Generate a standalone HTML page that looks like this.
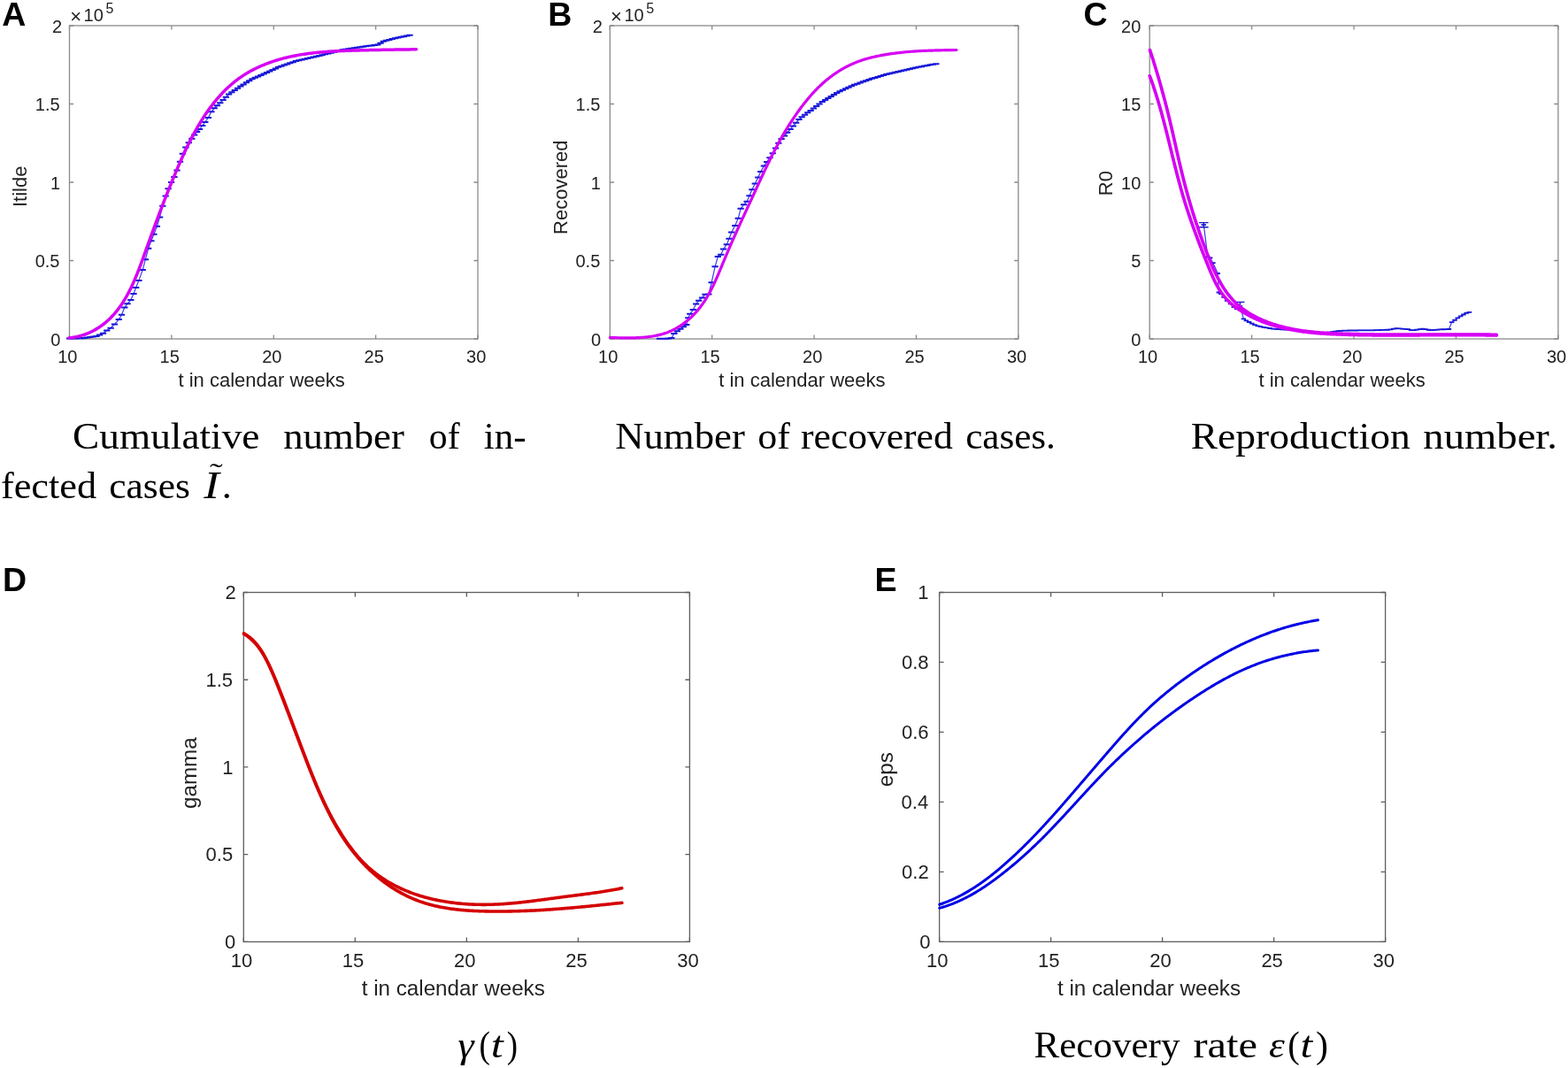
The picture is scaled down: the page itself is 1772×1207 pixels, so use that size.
<!DOCTYPE html>
<html><head><meta charset="utf-8"><title>Figure</title>
<style>html,body{margin:0;padding:0;background:#fff;}svg{display:block;}</style>
</head><body>
<svg width="1772" height="1207" viewBox="0 0 1772 1207">
<rect width="1772" height="1207" fill="#fff"/>
<rect x="78.5" y="29" width="461.5" height="354" fill="none" stroke="#8a8a8a" stroke-width="1.3"/>
<path d="M78.5,383v-4.6M78.5,29v4.6M193.88,383v-4.6M193.88,29v4.6M309.25,383v-4.6M309.25,29v4.6M424.62,383v-4.6M424.62,29v4.6M540,383v-4.6M540,29v4.6M78.5,383h4.6M540,383h-4.6M78.5,294.5h4.6M540,294.5h-4.6M78.5,206h4.6M540,206h-4.6M78.5,117.5h4.6M540,117.5h-4.6M78.5,29h4.6M540,29h-4.6" stroke="#8a8a8a" stroke-width="1.3" fill="none"/>
<text x="65.23" y="409.7" font-family="Liberation Sans, sans-serif" font-size="20" fill="#222">10</text>
<text x="180.62" y="409.7" font-family="Liberation Sans, sans-serif" font-size="20" fill="#222">15</text>
<text x="296.22" y="409.7" font-family="Liberation Sans, sans-serif" font-size="20" fill="#222">20</text>
<text x="411.62" y="409.7" font-family="Liberation Sans, sans-serif" font-size="20" fill="#222">25</text>
<text x="527.1" y="409.7" font-family="Liberation Sans, sans-serif" font-size="20" fill="#222">30</text>
<text x="57.25" y="390.57" font-family="Liberation Sans, sans-serif" font-size="20" fill="#222">0</text>
<text x="39.7" y="302.07" font-family="Liberation Sans, sans-serif" font-size="20" fill="#222">0.5</text>
<text x="56.95" y="213.57" font-family="Liberation Sans, sans-serif" font-size="20" fill="#222">1</text>
<text x="39.8" y="124.98" font-family="Liberation Sans, sans-serif" font-size="20" fill="#222">1.5</text>
<text x="58.9" y="36.68" font-family="Liberation Sans, sans-serif" font-size="20" fill="#222">2</text>
<path d="M78.5,382.5 L82,382.5 L85.3,382.4 L88.6,382.3 L91.9,382.2 L95.2,381.9 L98.5,381.5 L101.8,381 L105.2,380.4 L109,379.9 L112.5,378.5 L116.5,376.7 L120.8,373.4 L125.1,370.7 L129.5,366.4 L134.3,361.1 L137.5,355.7 L140.8,347.6 L144,343.3 L147.8,339 L151,332 L153.7,325 L156.9,316.9 L161.2,305.1 L164.4,293.2 L167.7,280.8 L170.9,272.2 L173.9,264.8 L177.4,255.8 L180.6,245.4 L183.8,232.8 L187.2,221.6 L190.1,213.2 L193.6,205.9 L196.9,199.9 L200,192.6 L203.5,182.8 L206.4,173.8 L209.9,166.5 L213.3,161.3 L216.8,156.7 L219.7,152.6 L222.6,149.1 L225.5,146 L228.7,142 L231.8,138 L235.4,132.9 L238.87,126.34 L242.17,122.3 L245.46,119.24 L248.76,116.18 L252.06,112.97 L255.35,109.71 L258.65,106.47 L261.95,104.24 L265.24,102.01 L268.54,99.78 L271.84,97.62 L275.13,95.49 L278.43,93.36 L281.72,91.22 L285.02,89.16 L288.32,87.77 L291.61,86.38 L294.91,84.98 L298.21,83.59 L301.5,82.09 L304.8,80.52 L308.1,78.95 L311.39,77.38 L314.69,75.83 L317.99,74.69 L321.28,73.55 L324.58,72.41 L327.87,71.27 L331.17,70.13 L334.47,68.98 L337.76,68.18 L341.06,67.45 L344.36,66.72 L347.65,65.98 L350.95,65.25 L354.25,64.51 L357.54,63.78 L360.84,63.01 L364.14,62.17 L367.43,61.33 L370.73,60.49 L374.02,59.65 L377.32,58.82 L380.62,58.01 L383.91,57.19 L387.21,56.37 L390.51,55.65 L393.8,55.15 L397.1,54.65 L400.4,54.15 L403.69,53.65 L406.99,53.15 L410.29,52.71 L413.58,52.29 L416.88,51.87 L420.17,51.45 L423.47,51.02 L426.77,50.6 L430.06,48.66 L433.36,46.7 L436.66,45.64 L439.95,44.88 L443.25,44.12 L446.55,43.36 L449.84,42.61 L453.14,41.87 L456.44,41.13 L459.73,40.38 L463.03,39.64" fill="none" stroke="#3a3af2" stroke-width="1.2" stroke-linejoin="round"/>
<path d="M74.85,382.5h7.3M78.35,382.5h7.3M81.65,382.4h7.3M84.95,382.3h7.3M88.25,382.2h7.3M91.55,381.9h7.3M94.85,381.5h7.3M98.15,381h7.3M101.55,380.4h7.3M105.35,379.9h7.3M108.85,378.5h7.3M112.85,376.7h7.3M117.15,373.4h7.3M121.45,370.7h7.3M125.85,366.4h7.3M130.65,361.1h7.3M133.85,355.7h7.3M137.15,347.6h7.3M140.35,343.3h7.3M144.15,339h7.3M147.35,332h7.3M150.05,325h7.3M153.25,316.9h7.3M157.55,305.1h7.3M160.75,293.2h7.3M164.05,280.8h7.3M167.25,272.2h7.3M170.25,264.8h7.3M173.75,255.8h7.3M176.95,245.4h7.3M180.15,232.8h7.3M183.55,221.6h7.3M186.45,213.2h7.3M189.95,205.9h7.3M193.25,199.9h7.3M196.35,192.6h7.3M199.85,182.8h7.3M202.75,173.8h7.3M206.25,166.5h7.3M209.65,161.3h7.3M213.15,156.7h7.3M216.05,152.6h7.3M218.95,149.1h7.3M221.85,146h7.3M225.05,142h7.3M228.15,138h7.3M231.75,132.9h7.3M235.22,126.34h7.3M238.52,122.3h7.3M241.81,119.24h7.3M245.11,116.18h7.3M248.41,112.97h7.3M251.7,109.71h7.3M255,106.47h7.3M258.3,104.24h7.3M261.59,102.01h7.3M264.89,99.78h7.3M268.19,97.62h7.3M271.48,95.49h7.3M274.78,93.36h7.3M278.07,91.22h7.3M281.37,89.16h7.3M284.67,87.77h7.3M287.96,86.38h7.3M291.26,84.98h7.3M294.56,83.59h7.3M297.85,82.09h7.3M301.15,80.52h7.3M304.45,78.95h7.3M307.74,77.38h7.3M311.04,75.83h7.3M314.34,74.69h7.3M317.63,73.55h7.3M320.93,72.41h7.3M324.22,71.27h7.3M327.52,70.13h7.3M330.82,68.98h7.3M334.11,68.18h7.3M337.41,67.45h7.3M340.71,66.72h7.3M344,65.98h7.3M347.3,65.25h7.3M350.6,64.51h7.3M353.89,63.78h7.3M357.19,63.01h7.3M360.49,62.17h7.3M363.78,61.33h7.3M367.08,60.49h7.3M370.37,59.65h7.3M373.67,58.82h7.3M376.97,58.01h7.3M380.26,57.19h7.3M383.56,56.37h7.3M386.86,55.65h7.3M390.15,55.15h7.3M393.45,54.65h7.3M396.75,54.15h7.3M400.04,53.65h7.3M403.34,53.15h7.3M406.64,52.71h7.3M409.93,52.29h7.3M413.23,51.87h7.3M416.52,51.45h7.3M419.82,51.02h7.3M423.12,50.6h7.3M426.41,48.66h7.3M429.71,46.7h7.3M433.01,45.64h7.3M436.3,44.88h7.3M439.6,44.12h7.3M442.9,43.36h7.3M446.19,42.61h7.3M449.49,41.87h7.3M452.79,41.13h7.3M456.08,40.38h7.3M459.38,39.64h7.3" fill="none" stroke="#1818d8" stroke-width="2.0"/>
<path d="M77.93,381.91 L79.59,381.74 L81.23,381.54 L82.85,381.3 L84.46,381.03 L86.04,380.72 L87.61,380.39 L89.16,380.02 L90.69,379.62 L92.2,379.19 L93.69,378.73 L95.16,378.25 L96.62,377.73 L98.05,377.19 L99.47,376.62 L100.87,376.02 L102.25,375.39 L103.62,374.74 L104.96,374.06 L106.29,373.36 L107.6,372.63 L108.89,371.88 L110.16,371.11 L111.42,370.31 L112.65,369.49 L113.87,368.65 L115.07,367.79 L116.26,366.9 L117.42,366 L118.57,365.07 L119.7,364.13 L120.81,363.17 L121.91,362.19 L122.99,361.19 L124.05,360.17 L125.09,359.14 L126.12,358.09 L127.13,357.03 L128.12,355.95 L129.09,354.85 L130.05,353.74 L130.99,352.62 L131.92,351.48 L132.83,350.33 L133.72,349.17 L134.6,347.99 L135.47,346.8 L136.32,345.6 L137.15,344.38 L137.98,343.16 L138.79,341.92 L139.58,340.67 L140.36,339.41 L141.13,338.14 L141.89,336.86 L142.64,335.57 L143.37,334.27 L144.1,332.96 L144.81,331.64 L145.51,330.31 L146.2,328.97 L146.88,327.63 L147.55,326.28 L148.21,324.92 L148.86,323.55 L149.5,322.18 L150.14,320.8 L150.76,319.41 L151.38,318.02 L151.99,316.62 L152.59,315.22 L153.19,313.81 L153.78,312.4 L154.36,310.98 L154.93,309.56 L155.5,308.13 L156.07,306.71 L156.63,305.27 L157.18,303.84 L157.73,302.4 L158.28,300.96 L158.82,299.52 L159.35,298.08 L159.89,296.63 L160.42,295.19 L160.94,293.74 L161.47,292.3 L161.99,290.85 L162.51,289.4 L163.03,287.96 L163.55,286.51 L164.07,285.07 L164.58,283.63 L165.1,282.18 L165.62,280.75 L166.13,279.31 L166.65,277.87 L167.16,276.44 L167.68,275.01 L168.19,273.58 L168.71,272.15 L169.22,270.73 L169.74,269.31 L170.26,267.88 L170.77,266.46 L171.29,265.04 L171.81,263.63 L172.33,262.21 L172.84,260.8 L173.36,259.38 L173.88,257.97 L174.4,256.56 L174.92,255.15 L175.44,253.75 L175.96,252.34 L176.48,250.94 L177.01,249.53 L177.53,248.13 L178.05,246.73 L178.58,245.33 L179.1,243.93 L179.63,242.53 L180.16,241.13 L180.69,239.74 L181.22,238.34 L181.75,236.95 L182.28,235.55 L182.82,234.16 L183.35,232.77 L183.89,231.37 L184.42,229.98 L184.96,228.59 L185.5,227.2 L186.04,225.81 L186.58,224.42 L187.13,223.04 L187.67,221.65 L188.22,220.26 L188.77,218.87 L189.32,217.49 L189.87,216.1 L190.43,214.71 L190.98,213.33 L191.54,211.94 L192.1,210.55 L192.66,209.17 L193.22,207.78 L193.79,206.39 L194.35,205.01 L194.92,203.62 L195.49,202.24 L196.07,200.85 L196.64,199.46 L197.22,198.08 L197.8,196.69 L198.38,195.3 L198.97,193.91 L199.55,192.52 L200.14,191.14 L200.73,189.75 L201.33,188.36 L201.93,186.97 L202.53,185.59 L203.13,184.2 L203.74,182.81 L204.35,181.43 L204.96,180.04 L205.58,178.66 L206.2,177.28 L206.83,175.9 L207.46,174.52 L208.09,173.14 L208.73,171.76 L209.37,170.39 L210.02,169.01 L210.67,167.64 L211.33,166.27 L211.99,164.91 L212.66,163.54 L213.33,162.18 L214.01,160.82 L214.69,159.47 L215.38,158.11 L216.07,156.76 L216.77,155.41 L217.48,154.07 L218.19,152.73 L218.91,151.39 L219.63,150.06 L220.36,148.73 L221.1,147.4 L221.84,146.08 L222.59,144.76 L223.35,143.45 L224.11,142.14 L224.88,140.83 L225.66,139.53 L226.45,138.23 L227.24,136.94 L228.04,135.66 L228.85,134.38 L229.67,133.1 L230.49,131.83 L231.33,130.56 L232.17,129.3 L233.02,128.05 L233.88,126.8 L234.74,125.56 L235.62,124.32 L236.5,123.09 L237.39,121.87 L238.3,120.66 L239.21,119.45 L240.13,118.25 L241.06,117.06 L241.99,115.87 L242.94,114.7 L243.9,113.53 L244.86,112.37 L245.84,111.22 L246.82,110.08 L247.82,108.96 L248.82,107.84 L249.84,106.73 L250.86,105.63 L251.9,104.54 L252.94,103.46 L253.99,102.39 L255.06,101.34 L256.13,100.3 L257.22,99.27 L258.31,98.25 L259.42,97.24 L260.54,96.25 L261.66,95.27 L262.8,94.3 L263.95,93.35 L265.11,92.41 L266.28,91.48 L267.46,90.57 L268.65,89.67 L269.86,88.79 L271.07,87.92 L272.3,87.07 L273.53,86.23 L274.78,85.41 L276.04,84.6 L277.31,83.8 L278.58,83.02 L279.87,82.26 L281.17,81.51 L282.47,80.77 L283.79,80.05 L285.11,79.34 L286.44,78.64 L287.78,77.96 L289.12,77.3 L290.48,76.64 L291.84,76 L293.21,75.38 L294.58,74.76 L295.96,74.17 L297.35,73.58 L298.75,73.01 L300.15,72.45 L301.55,71.9 L302.96,71.37 L304.38,70.84 L305.8,70.34 L307.22,69.84 L308.65,69.36 L310.09,68.89 L311.53,68.43 L312.97,67.98 L314.41,67.55 L315.86,67.12 L317.31,66.72 L318.76,66.32 L320.22,65.93 L321.68,65.56 L323.14,65.19 L324.6,64.84 L326.07,64.5 L327.54,64.16 L329.01,63.84 L330.49,63.53 L331.97,63.23 L333.45,62.94 L334.93,62.66 L336.41,62.39 L337.9,62.12 L339.38,61.87 L340.87,61.63 L342.37,61.39 L343.86,61.16 L345.36,60.94 L346.85,60.73 L348.35,60.53 L349.85,60.34 L351.35,60.15 L352.86,59.97 L354.36,59.8 L355.87,59.63 L357.37,59.47 L358.88,59.32 L360.39,59.17 L361.9,59.03 L363.41,58.9 L364.92,58.77 L366.43,58.65 L367.95,58.54 L369.46,58.43 L370.98,58.32 L372.49,58.22 L374.01,58.12 L375.52,58.03 L377.04,57.95 L378.55,57.86 L380.07,57.79 L381.59,57.71 L383.1,57.64 L384.62,57.57 L386.14,57.51 L387.65,57.45 L389.17,57.39 L390.69,57.33 L392.2,57.28 L393.72,57.23 L395.23,57.18 L396.75,57.14 L398.26,57.09 L399.77,57.05 L401.28,57.01 L402.79,56.97 L404.3,56.93 L405.81,56.89 L407.32,56.85 L408.83,56.82 L410.34,56.78 L411.84,56.74 L413.35,56.71 L414.85,56.68 L416.35,56.64 L417.86,56.61 L419.36,56.58 L420.86,56.55 L422.36,56.52 L423.86,56.49 L425.36,56.46 L426.86,56.43 L428.36,56.4 L429.86,56.38 L431.36,56.35 L432.86,56.32 L434.36,56.3 L435.86,56.27 L437.36,56.25 L438.86,56.22 L440.36,56.2 L441.86,56.17 L443.36,56.15 L444.86,56.13 L446.36,56.11 L447.86,56.08 L449.36,56.06 L450.86,56.04 L452.36,56.02 L453.87,56 L455.37,55.98 L456.87,55.96 L458.38,55.94 L459.88,55.92 L461.39,55.9 L462.9,55.88 L464.4,55.86 L465.91,55.85 L467.42,55.83 L468.93,55.81 L470.44,55.79" fill="none" stroke="#d600f4" stroke-width="3.5" stroke-linecap="round" stroke-linejoin="round"/>
<text transform="translate(30.4,210.3) rotate(-90)" x="-23.79" y="0" font-family="Liberation Sans, sans-serif" font-size="22" fill="#222">Itilde</text>
<text x="201.51" y="437.1" font-family="Liberation Sans, sans-serif" font-size="22" fill="#222">t in calendar weeks</text>
<rect x="689.3" y="29" width="461.5" height="354" fill="none" stroke="#8a8a8a" stroke-width="1.3"/>
<path d="M689.3,383v-4.6M689.3,29v4.6M804.67,383v-4.6M804.67,29v4.6M920.05,383v-4.6M920.05,29v4.6M1035.42,383v-4.6M1035.42,29v4.6M1150.8,383v-4.6M1150.8,29v4.6M689.3,383h4.6M1150.8,383h-4.6M689.3,294.5h4.6M1150.8,294.5h-4.6M689.3,206h4.6M1150.8,206h-4.6M689.3,117.5h4.6M1150.8,117.5h-4.6M689.3,29h4.6M1150.8,29h-4.6" stroke="#8a8a8a" stroke-width="1.3" fill="none"/>
<text x="676.02" y="409.7" font-family="Liberation Sans, sans-serif" font-size="20" fill="#222">10</text>
<text x="791.42" y="409.7" font-family="Liberation Sans, sans-serif" font-size="20" fill="#222">15</text>
<text x="907.02" y="409.7" font-family="Liberation Sans, sans-serif" font-size="20" fill="#222">20</text>
<text x="1022.42" y="409.7" font-family="Liberation Sans, sans-serif" font-size="20" fill="#222">25</text>
<text x="1137.9" y="409.7" font-family="Liberation Sans, sans-serif" font-size="20" fill="#222">30</text>
<text x="668.05" y="390.57" font-family="Liberation Sans, sans-serif" font-size="20" fill="#222">0</text>
<text x="650.5" y="302.07" font-family="Liberation Sans, sans-serif" font-size="20" fill="#222">0.5</text>
<text x="667.75" y="213.57" font-family="Liberation Sans, sans-serif" font-size="20" fill="#222">1</text>
<text x="650.6" y="124.98" font-family="Liberation Sans, sans-serif" font-size="20" fill="#222">1.5</text>
<text x="669.7" y="36.68" font-family="Liberation Sans, sans-serif" font-size="20" fill="#222">2</text>
<path d="M745.5,382.7 L748.8,382.7 L752.1,382.7 L755.5,382.6 L758.8,382 L761.9,376.9 L765.4,374.3 L768.9,371.7 L772.3,369.3 L775.8,367 L777.8,359.3 L779.8,354.8 L783.3,350.1 L786.7,343.4 L789.7,339.7 L793.5,336.4 L797,332.7 L800.8,332.5 L804.1,319.3 L808.1,301.3 L811.3,290 L814.7,287.8 L817.6,281.6 L821.3,276.2 L824,269.7 L826.7,262.5 L830.7,254.9 L834.2,246.8 L837.1,235.8 L840.6,231.2 L844.1,227.7 L847,221.3 L849.9,214.3 L853.3,207.4 L856.8,200.4 L859.7,194.1 L863.35,187.62 L866.65,182.95 L869.94,178.28 L873.24,173.34 L876.54,167.59 L879.83,161.85 L883.13,157.02 L886.43,153.38 L889.72,149.75 L893.02,146.11 L896.32,142.44 L899.61,138.76 L902.91,135.08 L906.2,132.31 L909.5,129.83 L912.8,127.35 L916.09,124.88 L919.39,122.42 L922.69,119.95 L925.98,117.49 L929.28,115.03 L932.58,112.96 L935.87,111 L939.17,109.03 L942.47,107.06 L945.76,105.09 L949.06,103.27 L952.35,101.79 L955.65,100.3 L958.95,98.82 L962.24,97.34 L965.54,95.85 L968.84,94.63 L972.13,93.47 L975.43,92.3 L978.73,91.14 L982.02,89.97 L985.32,88.86 L988.62,87.88 L991.91,86.89 L995.21,85.9 L998.5,84.91 L1001.8,83.92 L1005.1,83.16 L1008.39,82.43 L1011.69,81.7 L1014.99,80.97 L1018.28,80.25 L1021.58,79.51 L1024.88,78.76 L1028.17,78.02 L1031.47,77.27 L1034.77,76.52 L1038.06,75.78 L1041.36,75.16 L1044.65,74.57 L1047.95,73.97 L1051.25,73.37 L1054.54,72.77 L1057.84,72.17" fill="none" stroke="#3a3af2" stroke-width="1.2" stroke-linejoin="round"/>
<path d="M741.85,382.7h7.3M745.15,382.7h7.3M748.45,382.7h7.3M751.85,382.6h7.3M755.15,382h7.3M758.25,376.9h7.3M761.75,374.3h7.3M765.25,371.7h7.3M768.65,369.3h7.3M772.15,367h7.3M774.15,359.3h7.3M776.15,354.8h7.3M779.65,350.1h7.3M783.05,343.4h7.3M786.05,339.7h7.3M789.85,336.4h7.3M793.35,332.7h7.3M797.15,332.5h7.3M800.45,319.3h7.3M804.45,301.3h7.3M807.65,290h7.3M811.05,287.8h7.3M813.95,281.6h7.3M817.65,276.2h7.3M820.35,269.7h7.3M823.05,262.5h7.3M827.05,254.9h7.3M830.55,246.8h7.3M833.45,235.8h7.3M836.95,231.2h7.3M840.45,227.7h7.3M843.35,221.3h7.3M846.25,214.3h7.3M849.65,207.4h7.3M853.15,200.4h7.3M856.05,194.1h7.3M859.7,187.62h7.3M863,182.95h7.3M866.29,178.28h7.3M869.59,173.34h7.3M872.89,167.59h7.3M876.18,161.85h7.3M879.48,157.02h7.3M882.78,153.38h7.3M886.07,149.75h7.3M889.37,146.11h7.3M892.67,142.44h7.3M895.96,138.76h7.3M899.26,135.08h7.3M902.55,132.31h7.3M905.85,129.83h7.3M909.15,127.35h7.3M912.44,124.88h7.3M915.74,122.42h7.3M919.04,119.95h7.3M922.33,117.49h7.3M925.63,115.03h7.3M928.93,112.96h7.3M932.22,111h7.3M935.52,109.03h7.3M938.82,107.06h7.3M942.11,105.09h7.3M945.41,103.27h7.3M948.7,101.79h7.3M952,100.3h7.3M955.3,98.82h7.3M958.59,97.34h7.3M961.89,95.85h7.3M965.19,94.63h7.3M968.48,93.47h7.3M971.78,92.3h7.3M975.08,91.14h7.3M978.37,89.97h7.3M981.67,88.86h7.3M984.97,87.88h7.3M988.26,86.89h7.3M991.56,85.9h7.3M994.85,84.91h7.3M998.15,83.92h7.3M1001.45,83.16h7.3M1004.74,82.43h7.3M1008.04,81.7h7.3M1011.34,80.97h7.3M1014.63,80.25h7.3M1017.93,79.51h7.3M1021.23,78.76h7.3M1024.52,78.02h7.3M1027.82,77.27h7.3M1031.12,76.52h7.3M1034.41,75.78h7.3M1037.71,75.16h7.3M1041,74.57h7.3M1044.3,73.97h7.3M1047.6,73.37h7.3M1050.89,72.77h7.3M1054.19,72.17h7.3" fill="none" stroke="#1818d8" stroke-width="2.0"/>
<path d="M689.37,381.53 L690.81,381.56 L692.25,381.59 L693.71,381.63 L695.17,381.66 L696.65,381.7 L698.13,381.73 L699.62,381.77 L701.11,381.8 L702.61,381.83 L704.12,381.85 L705.63,381.87 L707.15,381.88 L708.67,381.89 L710.2,381.89 L711.72,381.89 L713.25,381.87 L714.79,381.85 L716.32,381.82 L717.85,381.78 L719.39,381.72 L720.92,381.66 L722.46,381.58 L723.99,381.49 L725.52,381.39 L727.05,381.27 L728.58,381.14 L730.1,380.99 L731.62,380.83 L733.14,380.65 L734.65,380.45 L736.15,380.23 L737.65,379.99 L739.14,379.73 L740.63,379.46 L742.11,379.16 L743.58,378.84 L745.04,378.49 L746.49,378.12 L747.94,377.73 L749.37,377.32 L750.79,376.87 L752.21,376.4 L753.61,375.91 L754.99,375.39 L756.37,374.83 L757.73,374.25 L759.08,373.65 L760.42,373.01 L761.74,372.35 L763.05,371.67 L764.35,370.95 L765.63,370.22 L766.9,369.45 L768.15,368.67 L769.39,367.86 L770.62,367.03 L771.83,366.17 L773.03,365.29 L774.22,364.39 L775.39,363.47 L776.54,362.53 L777.68,361.57 L778.8,360.59 L779.91,359.59 L781.01,358.57 L782.09,357.53 L783.15,356.47 L784.2,355.4 L785.23,354.31 L786.24,353.2 L787.24,352.08 L788.22,350.94 L789.19,349.79 L790.14,348.63 L791.08,347.45 L791.99,346.25 L792.89,345.04 L793.78,343.82 L794.64,342.59 L795.49,341.35 L796.32,340.1 L797.14,338.83 L797.94,337.56 L798.73,336.27 L799.5,334.98 L800.25,333.67 L801,332.36 L801.73,331.04 L802.44,329.71 L803.15,328.38 L803.85,327.03 L804.53,325.68 L805.2,324.33 L805.87,322.97 L806.52,321.6 L807.17,320.22 L807.81,318.85 L808.44,317.47 L809.06,316.08 L809.68,314.69 L810.29,313.3 L810.89,311.9 L811.49,310.51 L812.09,309.11 L812.68,307.71 L813.27,306.3 L813.86,304.9 L814.44,303.5 L815.02,302.1 L815.6,300.69 L816.18,299.29 L816.76,297.89 L817.35,296.49 L817.93,295.09 L818.51,293.7 L819.1,292.31 L819.68,290.92 L820.27,289.53 L820.86,288.14 L821.45,286.76 L822.04,285.37 L822.63,283.99 L823.22,282.61 L823.82,281.23 L824.42,279.85 L825.01,278.48 L825.61,277.1 L826.21,275.72 L826.82,274.35 L827.42,272.98 L828.03,271.6 L828.63,270.23 L829.24,268.86 L829.85,267.49 L830.46,266.12 L831.08,264.75 L831.69,263.38 L832.31,262.01 L832.92,260.64 L833.54,259.27 L834.16,257.9 L834.78,256.53 L835.4,255.17 L836.03,253.8 L836.65,252.43 L837.28,251.06 L837.9,249.7 L838.53,248.33 L839.15,246.96 L839.78,245.6 L840.41,244.23 L841.04,242.86 L841.67,241.5 L842.3,240.13 L842.93,238.77 L843.56,237.4 L844.19,236.03 L844.82,234.67 L845.45,233.3 L846.08,231.93 L846.72,230.57 L847.35,229.2 L847.98,227.84 L848.61,226.47 L849.24,225.1 L849.87,223.74 L850.51,222.37 L851.14,221 L851.77,219.63 L852.4,218.27 L853.03,216.9 L853.66,215.53 L854.29,214.16 L854.91,212.79 L855.54,211.42 L856.17,210.06 L856.8,208.69 L857.43,207.32 L858.06,205.95 L858.7,204.58 L859.33,203.22 L859.96,201.85 L860.59,200.48 L861.23,199.12 L861.87,197.75 L862.5,196.39 L863.14,195.03 L863.78,193.67 L864.43,192.3 L865.07,190.94 L865.72,189.58 L866.37,188.23 L867.02,186.87 L867.67,185.51 L868.33,184.16 L868.99,182.81 L869.65,181.46 L870.31,180.11 L870.98,178.76 L871.65,177.41 L872.32,176.07 L873,174.72 L873.68,173.38 L874.36,172.04 L875.05,170.71 L875.74,169.37 L876.43,168.04 L877.13,166.71 L877.83,165.38 L878.54,164.05 L879.25,162.73 L879.97,161.41 L880.69,160.09 L881.42,158.77 L882.15,157.46 L882.88,156.15 L883.62,154.84 L884.37,153.53 L885.12,152.23 L885.88,150.93 L886.64,149.64 L887.4,148.34 L888.18,147.05 L888.96,145.77 L889.74,144.49 L890.53,143.21 L891.33,141.93 L892.13,140.66 L892.94,139.39 L893.75,138.12 L894.57,136.86 L895.4,135.6 L896.23,134.35 L897.07,133.1 L897.92,131.86 L898.77,130.61 L899.63,129.38 L900.49,128.14 L901.36,126.91 L902.24,125.69 L903.12,124.47 L904.01,123.26 L904.91,122.04 L905.82,120.84 L906.73,119.64 L907.65,118.44 L908.57,117.25 L909.51,116.06 L910.45,114.88 L911.4,113.71 L912.35,112.54 L913.32,111.38 L914.29,110.23 L915.27,109.08 L916.26,107.94 L917.26,106.81 L918.27,105.69 L919.28,104.57 L920.31,103.47 L921.35,102.37 L922.39,101.29 L923.45,100.22 L924.51,99.15 L925.59,98.1 L926.67,97.06 L927.77,96.02 L928.88,95.01 L929.99,94 L931.12,93 L932.26,92.02 L933.4,91.05 L934.56,90.09 L935.73,89.14 L936.9,88.21 L938.09,87.29 L939.29,86.39 L940.49,85.5 L941.7,84.62 L942.93,83.75 L944.16,82.9 L945.4,82.07 L946.66,81.25 L947.92,80.44 L949.19,79.65 L950.46,78.88 L951.75,78.12 L953.05,77.38 L954.35,76.65 L955.67,75.94 L956.99,75.25 L958.32,74.57 L959.66,73.91 L961.01,73.26 L962.36,72.64 L963.73,72.03 L965.1,71.44 L966.48,70.87 L967.87,70.31 L969.27,69.77 L970.67,69.26 L972.08,68.75 L973.5,68.27 L974.92,67.8 L976.36,67.34 L977.79,66.9 L979.23,66.48 L980.68,66.07 L982.14,65.67 L983.59,65.29 L985.06,64.92 L986.52,64.56 L987.99,64.22 L989.47,63.89 L990.95,63.57 L992.43,63.26 L993.91,62.96 L995.4,62.67 L996.89,62.39 L998.38,62.12 L999.87,61.87 L1001.36,61.62 L1002.86,61.37 L1004.35,61.14 L1005.85,60.92 L1007.35,60.7 L1008.85,60.49 L1010.35,60.29 L1011.85,60.09 L1013.35,59.91 L1014.85,59.73 L1016.35,59.55 L1017.85,59.39 L1019.36,59.23 L1020.86,59.07 L1022.37,58.93 L1023.87,58.78 L1025.38,58.65 L1026.88,58.52 L1028.39,58.4 L1029.89,58.28 L1031.4,58.17 L1032.91,58.06 L1034.41,57.96 L1035.92,57.86 L1037.43,57.77 L1038.93,57.68 L1040.44,57.6 L1041.95,57.52 L1043.45,57.45 L1044.96,57.38 L1046.46,57.31 L1047.97,57.25 L1049.48,57.19 L1050.98,57.13 L1052.49,57.08 L1053.99,57.03 L1055.49,56.98 L1057,56.94 L1058.5,56.9 L1060,56.86 L1061.5,56.82 L1063.01,56.79 L1064.51,56.76 L1066.01,56.73 L1067.5,56.7 L1069,56.67 L1070.5,56.65 L1072,56.62 L1073.49,56.6 L1074.99,56.58 L1076.48,56.56 L1077.97,56.54 L1079.46,56.52 L1080.95,56.5" fill="none" stroke="#d600f4" stroke-width="3.2" stroke-linecap="round" stroke-linejoin="round"/>
<text transform="translate(641.2,211.5) rotate(-90)" x="-53.4" y="0" font-family="Liberation Sans, sans-serif" font-size="22" fill="#222">Recovered</text>
<text x="812.26" y="437.1" font-family="Liberation Sans, sans-serif" font-size="22" fill="#222">t in calendar weeks</text>
<rect x="1299.2" y="29" width="461.7" height="354" fill="none" stroke="#8a8a8a" stroke-width="1.3"/>
<path d="M1299.2,383v-4.6M1299.2,29v4.6M1414.62,383v-4.6M1414.62,29v4.6M1530.05,383v-4.6M1530.05,29v4.6M1645.48,383v-4.6M1645.48,29v4.6M1760.9,383v-4.6M1760.9,29v4.6M1299.2,383h4.6M1760.9,383h-4.6M1299.2,294.5h4.6M1760.9,294.5h-4.6M1299.2,206h4.6M1760.9,206h-4.6M1299.2,117.5h4.6M1760.9,117.5h-4.6M1299.2,29h4.6M1760.9,29h-4.6" stroke="#8a8a8a" stroke-width="1.3" fill="none"/>
<text x="1285.93" y="409.7" font-family="Liberation Sans, sans-serif" font-size="20" fill="#222">10</text>
<text x="1401.38" y="409.7" font-family="Liberation Sans, sans-serif" font-size="20" fill="#222">15</text>
<text x="1517.03" y="409.7" font-family="Liberation Sans, sans-serif" font-size="20" fill="#222">20</text>
<text x="1632.48" y="409.7" font-family="Liberation Sans, sans-serif" font-size="20" fill="#222">25</text>
<text x="1748" y="409.7" font-family="Liberation Sans, sans-serif" font-size="20" fill="#222">30</text>
<text x="1278.15" y="390.57" font-family="Liberation Sans, sans-serif" font-size="20" fill="#222">0</text>
<text x="1278.2" y="301.97" font-family="Liberation Sans, sans-serif" font-size="20" fill="#222">5</text>
<text x="1267.05" y="213.57" font-family="Liberation Sans, sans-serif" font-size="20" fill="#222">10</text>
<text x="1267.1" y="124.98" font-family="Liberation Sans, sans-serif" font-size="20" fill="#222">15</text>
<text x="1267.05" y="36.58" font-family="Liberation Sans, sans-serif" font-size="20" fill="#222">20</text>
<path d="M1360.3,254.2 L1364.9,290.3 L1367.6,291.5 L1370.9,297.2 L1376.2,309 L1377.4,330.5 L1379.8,332 L1383,335.8 L1386.6,339.8 L1390.6,343.3 L1394.3,347.2 L1397.6,349 L1401.4,345.8 L1405.4,360.3 L1408.4,362.4 L1411.6,364 L1414.8,365.6 L1418,367.2 L1421.2,368.4 L1424.6,369.2 L1428,369.8 L1431.6,370.4 L1435,371 L1438.6,371.6 L1442,371.9 L1445.5,372.1 L1449,372.3 L1452.5,372.5 L1456,372.7 L1485.73,375.17 L1489.02,375.48 L1492.32,375.78 L1495.62,375.98 L1498.92,376.17 L1502.22,375.7 L1505.51,375.11 L1508.81,374.56 L1512.11,374.1 L1515.41,373.81 L1518.71,373.59 L1522,373.54 L1525.3,373.5 L1528.6,373.5 L1531.9,373.5 L1535.19,373.47 L1538.49,373.43 L1541.79,373.4 L1545.09,373.4 L1548.39,373.4 L1551.68,373.28 L1554.98,373.14 L1558.28,373.03 L1561.58,372.94 L1564.88,372.85 L1568.17,372.75 L1571.47,372.38 L1574.77,371.68 L1578.07,371.26 L1581.36,371.45 L1584.66,371.64 L1587.96,371.83 L1591.26,372.08 L1594.56,373.16 L1597.85,373.07 L1601.15,372.64 L1604.45,372.19 L1607.75,371.73 L1611.05,372.2 L1614.34,372.74 L1617.64,373.03 L1620.94,372.83 L1624.24,372.63 L1627.53,372.44 L1630.83,372.27 L1634.13,372.14 L1637.43,372.01 L1640.73,364.07 L1644.02,361.77 L1647.32,359.43 L1650.62,357.43 L1653.92,355.51 L1657.22,353.75 L1660.51,352.9" fill="none" stroke="#3a3af2" stroke-width="1.2" stroke-linejoin="round"/>
<path d="M1357.55,254.2h5.5M1362.15,290.3h5.5M1364.85,291.5h5.5M1368.15,297.2h5.5M1373.45,309h5.5M1374.65,330.5h5.5M1377.05,332h5.5M1380.25,335.8h5.5M1383.85,339.8h5.5M1387.85,343.3h5.5M1391.55,347.2h5.5M1394.85,349h5.5M1398.65,345.8h5.5M1402.65,360.3h5.5M1405.65,362.4h5.5M1408.85,364h5.5M1412.05,365.6h5.5M1415.25,367.2h5.5M1418.45,368.4h5.5M1421.85,369.2h5.5M1425.25,369.8h5.5M1428.85,370.4h5.5M1432.25,371h5.5M1435.85,371.6h5.5M1439.25,371.9h5.5M1442.75,372.1h5.5M1446.25,372.3h5.5M1449.75,372.5h5.5M1453.25,372.7h5.5M1482.98,375.17h5.5M1486.27,375.48h5.5M1489.57,375.78h5.5M1492.87,375.98h5.5M1496.17,376.17h5.5M1499.47,375.7h5.5M1502.76,375.11h5.5M1506.06,374.56h5.5M1509.36,374.1h5.5M1512.66,373.81h5.5M1515.96,373.59h5.5M1519.25,373.54h5.5M1522.55,373.5h5.5M1525.85,373.5h5.5M1529.15,373.5h5.5M1532.44,373.47h5.5M1535.74,373.43h5.5M1539.04,373.4h5.5M1542.34,373.4h5.5M1545.64,373.4h5.5M1548.93,373.28h5.5M1552.23,373.14h5.5M1555.53,373.03h5.5M1558.83,372.94h5.5M1562.13,372.85h5.5M1565.42,372.75h5.5M1568.72,372.38h5.5M1572.02,371.68h5.5M1575.32,371.26h5.5M1578.61,371.45h5.5M1581.91,371.64h5.5M1585.21,371.83h5.5M1588.51,372.08h5.5M1591.81,373.16h5.5M1595.1,373.07h5.5M1598.4,372.64h5.5M1601.7,372.19h5.5M1605,371.73h5.5M1608.3,372.2h5.5M1611.59,372.74h5.5M1614.89,373.03h5.5M1618.19,372.83h5.5M1621.49,372.63h5.5M1624.78,372.44h5.5M1628.08,372.27h5.5M1631.38,372.14h5.5M1634.68,372.01h5.5M1637.98,364.07h5.5M1641.27,361.77h5.5M1644.57,359.43h5.5M1647.87,357.43h5.5M1651.17,355.51h5.5M1654.47,353.75h5.5M1657.76,352.9h5.5" fill="none" stroke="#1818d8" stroke-width="1.8"/>
<path d="M1355,251.6h10.6M1355,256.8h10.6M1396.5,341.4h10M1360.3,251.6V256.8M1401.4,341.4V350" stroke="#1616c4" stroke-width="1.4" fill="none"/>
<path d="M1299.28,85.79 L1299.81,87.2 L1300.33,88.61 L1300.84,90.03 L1301.35,91.45 L1301.85,92.86 L1302.34,94.28 L1302.84,95.71 L1303.32,97.13 L1303.8,98.55 L1304.28,99.98 L1304.75,101.41 L1305.22,102.84 L1305.68,104.27 L1306.14,105.7 L1306.59,107.14 L1307.04,108.57 L1307.48,110.01 L1307.92,111.45 L1308.36,112.89 L1308.79,114.33 L1309.22,115.77 L1309.65,117.22 L1310.07,118.66 L1310.49,120.11 L1310.9,121.56 L1311.32,123 L1311.72,124.45 L1312.13,125.9 L1312.53,127.35 L1312.93,128.81 L1313.33,130.26 L1313.72,131.71 L1314.11,133.17 L1314.5,134.62 L1314.89,136.08 L1315.28,137.54 L1315.66,139 L1316.04,140.45 L1316.42,141.91 L1316.79,143.37 L1317.17,144.83 L1317.54,146.29 L1317.91,147.76 L1318.28,149.22 L1318.65,150.68 L1319.02,152.14 L1319.38,153.61 L1319.75,155.07 L1320.11,156.53 L1320.48,158 L1320.84,159.46 L1321.2,160.92 L1321.56,162.39 L1321.92,163.85 L1322.28,165.32 L1322.64,166.78 L1323,168.25 L1323.36,169.71 L1323.72,171.18 L1324.08,172.64 L1324.44,174.11 L1324.8,175.57 L1325.16,177.04 L1325.53,178.5 L1325.89,179.96 L1326.25,181.43 L1326.62,182.89 L1326.98,184.35 L1327.35,185.82 L1327.71,187.28 L1328.08,188.74 L1328.45,190.2 L1328.82,191.66 L1329.19,193.12 L1329.57,194.58 L1329.94,196.04 L1330.32,197.5 L1330.7,198.95 L1331.08,200.41 L1331.47,201.87 L1331.85,203.32 L1332.24,204.78 L1332.63,206.23 L1333.03,207.68 L1333.42,209.13 L1333.82,210.58 L1334.22,212.03 L1334.63,213.48 L1335.04,214.93 L1335.45,216.38 L1335.86,217.82 L1336.28,219.27 L1336.7,220.71 L1337.12,222.15 L1337.55,223.59 L1337.98,225.03 L1338.42,226.47 L1338.86,227.9 L1339.3,229.34 L1339.75,230.77 L1340.2,232.21 L1340.66,233.64 L1341.11,235.07 L1341.57,236.5 L1342.04,237.92 L1342.51,239.35 L1342.98,240.78 L1343.45,242.2 L1343.93,243.63 L1344.41,245.05 L1344.9,246.47 L1345.38,247.89 L1345.88,249.31 L1346.37,250.73 L1346.87,252.15 L1347.36,253.57 L1347.87,254.98 L1348.37,256.4 L1348.88,257.82 L1349.39,259.23 L1349.9,260.65 L1350.42,262.06 L1350.94,263.47 L1351.46,264.88 L1351.98,266.3 L1352.51,267.71 L1353.03,269.12 L1353.57,270.53 L1354.1,271.94 L1354.63,273.35 L1355.17,274.76 L1355.71,276.17 L1356.25,277.57 L1356.79,278.98 L1357.34,280.39 L1357.88,281.8 L1358.43,283.21 L1358.98,284.61 L1359.53,286.02 L1360.09,287.43 L1360.64,288.83 L1361.2,290.24 L1361.76,291.65 L1362.32,293.06 L1362.88,294.46 L1363.44,295.87 L1364.01,297.28 L1364.57,298.68 L1365.14,300.09 L1365.71,301.5 L1366.28,302.91 L1366.85,304.31 L1367.43,305.71 L1368.01,307.11 L1368.6,308.51 L1369.2,309.9 L1369.8,311.29 L1370.42,312.67 L1371.04,314.04 L1371.67,315.41 L1372.32,316.77 L1372.98,318.12 L1373.65,319.46 L1374.33,320.79 L1375.03,322.1 L1375.75,323.41 L1376.49,324.7 L1377.24,325.99 L1378.01,327.25 L1378.8,328.5 L1379.61,329.74 L1380.45,330.96 L1381.3,332.17 L1382.18,333.35 L1383.09,334.52 L1384.02,335.67 L1384.97,336.8 L1385.95,337.91 L1386.96,338.99 L1388,340.06 L1389.06,341.11 L1390.15,342.14 L1391.27,343.15 L1392.42,344.14 L1393.6,345.1 L1394.8,346.04 L1396.03,346.97 L1397.27,347.87 L1398.53,348.76 L1399.81,349.63 L1401.09,350.48 L1402.39,351.31 L1403.69,352.12 L1404.99,352.92 L1406.3,353.7 L1407.62,354.46 L1408.94,355.21 L1410.27,355.94 L1411.61,356.65 L1412.94,357.35 L1414.29,358.03 L1415.64,358.7 L1416.99,359.35 L1418.35,359.99 L1419.71,360.61 L1421.08,361.22 L1422.46,361.81 L1423.83,362.39 L1425.22,362.95 L1426.6,363.5 L1427.99,364.04 L1429.39,364.56 L1430.79,365.07 L1432.2,365.56 L1433.6,366.05 L1435.02,366.51 L1436.43,366.97 L1437.85,367.42 L1439.28,367.85 L1440.7,368.27 L1442.14,368.68 L1443.57,369.07 L1445.01,369.46 L1446.45,369.83 L1447.9,370.19 L1449.34,370.54 L1450.8,370.88 L1452.25,371.21 L1453.71,371.53 L1455.17,371.84 L1456.63,372.14 L1458.1,372.43 L1459.57,372.71 L1461.04,372.98 L1462.51,373.24 L1463.99,373.49 L1465.47,373.74 L1466.95,373.97 L1468.43,374.2 L1469.92,374.41 L1471.41,374.62 L1472.9,374.82 L1474.39,375.02 L1475.88,375.2 L1477.38,375.38 L1478.88,375.55 L1480.38,375.72 L1481.88,375.87 L1483.38,376.03 L1484.88,376.17 L1486.39,376.31 L1487.89,376.44 L1489.4,376.57 L1490.91,376.69 L1492.42,376.8 L1493.93,376.91 L1495.44,377.02 L1496.95,377.11 L1498.46,377.21 L1499.97,377.3 L1501.49,377.39 L1503,377.47 L1504.51,377.55 L1506.03,377.62 L1507.54,377.69 L1509.06,377.76 L1510.57,377.82 L1512.09,377.88 L1513.61,377.94 L1515.12,377.99 L1516.63,378.05 L1518.15,378.1 L1519.66,378.15 L1521.18,378.19 L1522.69,378.24 L1524.2,378.28 L1525.71,378.32 L1527.23,378.36 L1528.74,378.4 L1530.25,378.43 L1531.76,378.47 L1533.27,378.5 L1534.78,378.53 L1536.29,378.56 L1537.8,378.59 L1539.31,378.62 L1540.81,378.64 L1542.32,378.66 L1543.83,378.69 L1545.34,378.71 L1546.84,378.73 L1548.35,378.75 L1549.86,378.76 L1551.36,378.78 L1552.87,378.79 L1554.37,378.81 L1555.88,378.82 L1557.38,378.83 L1558.89,378.84 L1560.39,378.85 L1561.9,378.86 L1563.4,378.86 L1564.9,378.87 L1566.41,378.87 L1567.91,378.88 L1569.41,378.88 L1570.92,378.88 L1572.42,378.88 L1573.92,378.88 L1575.42,378.88 L1576.93,378.88 L1578.43,378.88 L1579.93,378.88 L1581.43,378.88 L1582.93,378.87 L1584.44,378.87 L1585.94,378.86 L1587.44,378.86 L1588.94,378.85 L1590.44,378.85 L1591.94,378.84 L1593.44,378.84 L1594.95,378.83 L1596.45,378.82 L1597.95,378.81 L1599.45,378.8 L1600.95,378.8 L1602.45,378.79 L1603.95,378.78 L1605.45,378.77 L1606.96,378.76 L1608.46,378.75 L1609.96,378.74 L1611.46,378.73 L1612.96,378.72 L1614.46,378.72 L1615.97,378.71 L1617.47,378.7 L1618.97,378.69 L1620.47,378.68 L1621.97,378.67 L1623.48,378.66 L1624.98,378.66 L1626.48,378.65 L1627.98,378.64 L1629.49,378.63 L1630.99,378.63 L1632.49,378.62 L1634,378.61 L1635.5,378.61 L1637.01,378.6 L1638.51,378.6 L1640.02,378.6 L1641.52,378.59 L1643.03,378.59 L1644.53,378.59 L1646.04,378.59 L1647.54,378.59 L1649.05,378.59 L1650.56,378.59 L1652.06,378.59 L1653.57,378.59 L1655.08,378.6 L1656.59,378.6 L1658.09,378.6 L1659.6,378.61 L1661.11,378.62 L1662.62,378.63 L1664.13,378.64 L1665.64,378.65 L1667.15,378.66 L1668.66,378.67 L1670.17,378.68 L1671.69,378.7 L1673.2,378.71 L1674.71,378.73 L1676.22,378.75 L1677.74,378.77 L1679.25,378.79 L1680.77,378.82 L1682.28,378.84 L1683.8,378.87 L1685.32,378.89 L1686.83,378.92 L1688.35,378.95 L1689.87,378.98 L1691.39,379.02" fill="none" stroke="#d600f4" stroke-width="3.7" stroke-linecap="round" stroke-linejoin="round"/>
<path d="M1299.54,56.58 L1300.01,58.02 L1300.47,59.45 L1300.94,60.89 L1301.4,62.32 L1301.86,63.76 L1302.31,65.2 L1302.77,66.63 L1303.22,68.07 L1303.67,69.51 L1304.11,70.95 L1304.56,72.39 L1305,73.83 L1305.44,75.27 L1305.88,76.71 L1306.32,78.15 L1306.75,79.59 L1307.18,81.03 L1307.61,82.47 L1308.04,83.91 L1308.47,85.35 L1308.89,86.8 L1309.31,88.24 L1309.73,89.68 L1310.15,91.13 L1310.56,92.57 L1310.98,94.02 L1311.39,95.46 L1311.79,96.91 L1312.2,98.36 L1312.6,99.81 L1313.01,101.25 L1313.41,102.7 L1313.8,104.15 L1314.2,105.6 L1314.59,107.05 L1314.98,108.51 L1315.37,109.96 L1315.76,111.41 L1316.14,112.86 L1316.53,114.32 L1316.91,115.77 L1317.29,117.23 L1317.66,118.69 L1318.04,120.14 L1318.41,121.6 L1318.78,123.06 L1319.15,124.52 L1319.51,125.98 L1319.87,127.44 L1320.24,128.9 L1320.6,130.37 L1320.95,131.83 L1321.31,133.29 L1321.66,134.76 L1322.01,136.23 L1322.36,137.69 L1322.71,139.16 L1323.05,140.63 L1323.4,142.1 L1323.74,143.57 L1324.08,145.04 L1324.42,146.51 L1324.76,147.98 L1325.1,149.45 L1325.43,150.92 L1325.77,152.4 L1326.1,153.87 L1326.44,155.34 L1326.77,156.81 L1327.1,158.29 L1327.44,159.76 L1327.77,161.23 L1328.1,162.71 L1328.43,164.18 L1328.77,165.65 L1329.1,167.12 L1329.43,168.6 L1329.76,170.07 L1330.1,171.54 L1330.43,173.01 L1330.77,174.48 L1331.1,175.95 L1331.44,177.42 L1331.77,178.89 L1332.11,180.36 L1332.45,181.83 L1332.79,183.3 L1333.13,184.77 L1333.48,186.23 L1333.82,187.7 L1334.17,189.16 L1334.52,190.63 L1334.87,192.09 L1335.22,193.55 L1335.57,195.01 L1335.93,196.47 L1336.29,197.93 L1336.65,199.38 L1337.02,200.84 L1337.38,202.29 L1337.75,203.75 L1338.12,205.2 L1338.5,206.65 L1338.87,208.1 L1339.25,209.55 L1339.64,210.99 L1340.02,212.44 L1340.41,213.88 L1340.8,215.33 L1341.2,216.77 L1341.59,218.21 L1341.99,219.65 L1342.4,221.09 L1342.8,222.53 L1343.21,223.96 L1343.62,225.4 L1344.04,226.84 L1344.46,228.27 L1344.88,229.7 L1345.3,231.14 L1345.73,232.57 L1346.16,234 L1346.59,235.43 L1347.02,236.86 L1347.46,238.29 L1347.9,239.72 L1348.35,241.15 L1348.8,242.58 L1349.25,244.01 L1349.7,245.43 L1350.16,246.86 L1350.62,248.29 L1351.08,249.71 L1351.55,251.14 L1352.02,252.57 L1352.5,253.99 L1352.97,255.42 L1353.45,256.84 L1353.93,258.27 L1354.42,259.69 L1354.91,261.12 L1355.4,262.54 L1355.9,263.97 L1356.4,265.39 L1356.9,266.82 L1357.41,268.24 L1357.92,269.67 L1358.43,271.09 L1358.95,272.52 L1359.47,273.95 L1359.99,275.37 L1360.52,276.8 L1361.05,278.23 L1361.58,279.65 L1362.12,281.08 L1362.66,282.51 L1363.2,283.94 L1363.75,285.37 L1364.3,286.8 L1364.86,288.23 L1365.42,289.66 L1365.98,291.09 L1366.55,292.51 L1367.12,293.94 L1367.7,295.36 L1368.29,296.78 L1368.89,298.2 L1369.49,299.61 L1370.09,301.02 L1370.71,302.42 L1371.33,303.82 L1371.96,305.22 L1372.6,306.6 L1373.25,307.99 L1373.91,309.36 L1374.58,310.73 L1375.26,312.09 L1375.95,313.44 L1376.65,314.78 L1377.36,316.12 L1378.08,317.45 L1378.81,318.76 L1379.56,320.07 L1380.32,321.36 L1381.09,322.64 L1381.88,323.92 L1382.67,325.18 L1383.49,326.42 L1384.32,327.66 L1385.16,328.88 L1386.01,330.09 L1386.89,331.28 L1387.77,332.46 L1388.68,333.62 L1389.6,334.77 L1390.54,335.9 L1391.49,337.01 L1392.47,338.11 L1393.46,339.19 L1394.46,340.26 L1395.49,341.3 L1396.54,342.33 L1397.6,343.33 L1398.69,344.32 L1399.79,345.29 L1400.91,346.24 L1402.05,347.17 L1403.21,348.09 L1404.38,348.98 L1405.57,349.86 L1406.77,350.72 L1407.99,351.56 L1409.23,352.39 L1410.48,353.19 L1411.74,353.98 L1413.02,354.76 L1414.31,355.51 L1415.61,356.25 L1416.92,356.97 L1418.25,357.68 L1419.59,358.37 L1420.93,359.04 L1422.29,359.7 L1423.66,360.34 L1425.04,360.97 L1426.42,361.58 L1427.82,362.17 L1429.22,362.75 L1430.63,363.32 L1432.05,363.87 L1433.47,364.4 L1434.9,364.92 L1436.34,365.43 L1437.78,365.92 L1439.23,366.4 L1440.68,366.87 L1442.13,367.32 L1443.59,367.75 L1445.05,368.18 L1446.52,368.59 L1447.98,368.99 L1449.45,369.37 L1450.92,369.74 L1452.39,370.1 L1453.87,370.45 L1455.34,370.78 L1456.82,371.11 L1458.29,371.42 L1459.77,371.72 L1461.25,372.01 L1462.73,372.29 L1464.22,372.56 L1465.7,372.82 L1467.19,373.07 L1468.67,373.31 L1470.16,373.53 L1471.65,373.75 L1473.14,373.96 L1474.63,374.17 L1476.13,374.36 L1477.62,374.54 L1479.11,374.72 L1480.61,374.89 L1482.11,375.05 L1483.6,375.2 L1485.1,375.35 L1486.6,375.49 L1488.1,375.62 L1489.6,375.75 L1491.1,375.87 L1492.6,375.98 L1494.11,376.09 L1495.61,376.19 L1497.11,376.29 L1498.62,376.38 L1500.12,376.47 L1501.62,376.56 L1503.13,376.63 L1504.64,376.71 L1506.14,376.78 L1507.65,376.85 L1509.15,376.91 L1510.66,376.97 L1512.17,377.03 L1513.67,377.08 L1515.18,377.14 L1516.68,377.19 L1518.19,377.23 L1519.7,377.28 L1521.2,377.33 L1522.71,377.37 L1524.22,377.41 L1525.72,377.45 L1527.23,377.49 L1528.73,377.53 L1530.24,377.57 L1531.75,377.6 L1533.25,377.64 L1534.76,377.67 L1536.26,377.7 L1537.77,377.74 L1539.27,377.76 L1540.78,377.79 L1542.28,377.82 L1543.79,377.85 L1545.29,377.87 L1546.8,377.9 L1548.3,377.92 L1549.81,377.94 L1551.31,377.96 L1552.82,377.98 L1554.32,378 L1555.83,378.02 L1557.33,378.04 L1558.84,378.05 L1560.34,378.07 L1561.85,378.08 L1563.35,378.09 L1564.85,378.11 L1566.36,378.12 L1567.86,378.13 L1569.37,378.14 L1570.87,378.15 L1572.38,378.16 L1573.88,378.17 L1575.38,378.17 L1576.89,378.18 L1578.39,378.19 L1579.9,378.19 L1581.4,378.2 L1582.91,378.2 L1584.41,378.2 L1585.91,378.21 L1587.42,378.21 L1588.92,378.21 L1590.43,378.21 L1591.93,378.21 L1593.43,378.22 L1594.94,378.22 L1596.44,378.22 L1597.95,378.21 L1599.45,378.21 L1600.95,378.21 L1602.46,378.21 L1603.96,378.21 L1605.47,378.21 L1606.97,378.2 L1608.48,378.2 L1609.98,378.2 L1611.48,378.2 L1612.99,378.19 L1614.49,378.19 L1616,378.19 L1617.5,378.18 L1619.01,378.18 L1620.51,378.17 L1622.02,378.17 L1623.52,378.17 L1625.03,378.16 L1626.53,378.16 L1628.04,378.15 L1629.54,378.15 L1631.05,378.15 L1632.55,378.14 L1634.06,378.14 L1635.56,378.14 L1637.07,378.13 L1638.57,378.13 L1640.08,378.13 L1641.58,378.12 L1643.09,378.12 L1644.6,378.12 L1646.1,378.12 L1647.61,378.12 L1649.11,378.11 L1650.62,378.11 L1652.13,378.11 L1653.63,378.11 L1655.14,378.11 L1656.64,378.11 L1658.15,378.11 L1659.66,378.11 L1661.16,378.12 L1662.67,378.12 L1664.18,378.12 L1665.69,378.13 L1667.19,378.13 L1668.7,378.13 L1670.21,378.14 L1671.72,378.15 L1673.22,378.15 L1674.73,378.16 L1676.24,378.17 L1677.75,378.18 L1679.26,378.18 L1680.77,378.19 L1682.27,378.21 L1683.78,378.22 L1685.29,378.23 L1686.8,378.24 L1688.31,378.26 L1689.82,378.27 L1691.33,378.29" fill="none" stroke="#d600f4" stroke-width="3.7" stroke-linecap="round" stroke-linejoin="round"/>
<text transform="translate(1257,206.7) rotate(-90)" x="-14.55" y="0" font-family="Liberation Sans, sans-serif" font-size="22" fill="#222">R0</text>
<text x="1422.46" y="437.1" font-family="Liberation Sans, sans-serif" font-size="22" fill="#222">t in calendar weeks</text>
<rect x="275.3" y="669.5" width="504.1" height="394.9" fill="none" stroke="#5e5e5e" stroke-width="1.3"/>
<path d="M275.3,1064.4v-5M275.3,669.5v5M401.32,1064.4v-5M401.32,669.5v5M527.35,1064.4v-5M527.35,669.5v5M653.38,1064.4v-5M653.38,669.5v5M779.4,1064.4v-5M779.4,669.5v5M275.3,1064.4h5M779.4,1064.4h-5M275.3,965.68h5M779.4,965.68h-5M275.3,866.95h5M779.4,866.95h-5M275.3,768.23h5M779.4,768.23h-5M275.3,669.5h5M779.4,669.5h-5" stroke="#5e5e5e" stroke-width="1.3" fill="none"/>
<text x="260.78" y="1093.3" font-family="Liberation Sans, sans-serif" font-size="22" fill="#222">10</text>
<text x="386.83" y="1093.3" font-family="Liberation Sans, sans-serif" font-size="22" fill="#222">15</text>
<text x="513.1" y="1093.3" font-family="Liberation Sans, sans-serif" font-size="22" fill="#222">20</text>
<text x="639.15" y="1093.3" font-family="Liberation Sans, sans-serif" font-size="22" fill="#222">25</text>
<text x="765.29" y="1093.3" font-family="Liberation Sans, sans-serif" font-size="22" fill="#222">30</text>
<text x="253.92" y="1071.96" font-family="Liberation Sans, sans-serif" font-size="22" fill="#222">0</text>
<text x="232.6" y="973.24" font-family="Liberation Sans, sans-serif" font-size="22" fill="#222">0.5</text>
<text x="251.24" y="874.51" font-family="Liberation Sans, sans-serif" font-size="22" fill="#222">1</text>
<text x="232.4" y="775.68" font-family="Liberation Sans, sans-serif" font-size="22" fill="#222">1.5</text>
<text x="254.39" y="677.17" font-family="Liberation Sans, sans-serif" font-size="22" fill="#222">2</text>
<path d="M275.64,716.43 L276.93,717.21 L278.19,718.03 L279.41,718.88 L280.61,719.76 L281.77,720.67 L282.91,721.61 L284.01,722.58 L285.09,723.57 L286.14,724.59 L287.16,725.64 L288.16,726.71 L289.14,727.81 L290.09,728.92 L291.01,730.06 L291.92,731.22 L292.8,732.4 L293.66,733.6 L294.51,734.82 L295.33,736.06 L296.14,737.31 L296.92,738.57 L297.7,739.85 L298.45,741.15 L299.19,742.45 L299.92,743.77 L300.63,745.1 L301.33,746.44 L302.02,747.78 L302.69,749.14 L303.36,750.5 L304.02,751.87 L304.66,753.24 L305.3,754.62 L305.93,756.01 L306.56,757.39 L307.17,758.79 L307.78,760.18 L308.38,761.58 L308.98,762.99 L309.57,764.39 L310.15,765.8 L310.73,767.21 L311.3,768.62 L311.87,770.04 L312.44,771.45 L313.01,772.87 L313.57,774.28 L314.12,775.69 L314.68,777.11 L315.24,778.52 L315.79,779.93 L316.34,781.34 L316.89,782.75 L317.44,784.16 L317.99,785.57 L318.54,786.97 L319.08,788.38 L319.63,789.78 L320.17,791.19 L320.71,792.59 L321.26,793.99 L321.8,795.39 L322.34,796.79 L322.87,798.19 L323.41,799.59 L323.95,800.99 L324.49,802.39 L325.02,803.79 L325.56,805.19 L326.09,806.58 L326.62,807.98 L327.16,809.38 L327.69,810.77 L328.22,812.17 L328.75,813.57 L329.28,814.96 L329.81,816.36 L330.34,817.75 L330.88,819.15 L331.41,820.54 L331.94,821.94 L332.46,823.33 L332.99,824.73 L333.52,826.12 L334.05,827.52 L334.58,828.91 L335.11,830.31 L335.64,831.71 L336.17,833.1 L336.7,834.5 L337.23,835.9 L337.76,837.29 L338.3,838.69 L338.83,840.09 L339.36,841.49 L339.89,842.89 L340.42,844.29 L340.96,845.69 L341.49,847.09 L342.03,848.49 L342.56,849.89 L343.1,851.3 L343.63,852.7 L344.17,854.1 L344.71,855.51 L345.25,856.92 L345.79,858.32 L346.33,859.73 L346.87,861.14 L347.42,862.55 L347.96,863.95 L348.51,865.36 L349.06,866.77 L349.61,868.18 L350.16,869.59 L350.71,871 L351.27,872.4 L351.83,873.81 L352.39,875.22 L352.95,876.62 L353.52,878.03 L354.09,879.44 L354.66,880.84 L355.23,882.24 L355.8,883.64 L356.38,885.05 L356.96,886.45 L357.55,887.84 L358.14,889.24 L358.73,890.64 L359.32,892.03 L359.92,893.43 L360.52,894.82 L361.13,896.21 L361.74,897.59 L362.35,898.98 L362.97,900.36 L363.59,901.74 L364.21,903.12 L364.84,904.5 L365.47,905.87 L366.11,907.24 L366.75,908.61 L367.4,909.98 L368.05,911.34 L368.71,912.7 L369.37,914.06 L370.04,915.41 L370.71,916.77 L371.38,918.11 L372.07,919.46 L372.75,920.8 L373.45,922.14 L374.14,923.47 L374.85,924.8 L375.56,926.13 L376.27,927.45 L377,928.77 L377.72,930.09 L378.46,931.4 L379.2,932.7 L379.94,934.01 L380.7,935.3 L381.46,936.6 L382.22,937.89 L382.99,939.17 L383.77,940.45 L384.56,941.72 L385.35,942.99 L386.15,944.26 L386.96,945.52 L387.78,946.77 L388.6,948.02 L389.43,949.26 L390.27,950.5 L391.11,951.74 L391.97,952.96 L392.83,954.18 L393.7,955.4 L394.57,956.61 L395.46,957.81 L396.35,959.01 L397.25,960.2 L398.16,961.39 L399.08,962.56 L400.01,963.74 L400.94,964.9 L401.89,966.06 L402.84,967.21 L403.81,968.36 L404.78,969.5 L405.76,970.63 L406.75,971.75 L407.75,972.87 L408.76,973.98 L409.78,975.08 L410.81,976.18 L411.85,977.27 L412.89,978.35 L413.95,979.42 L415.02,980.48 L416.1,981.54 L417.18,982.59 L418.28,983.63 L419.38,984.66 L420.49,985.68 L421.61,986.69 L422.75,987.69 L423.88,988.69 L425.03,989.67 L426.19,990.65 L427.35,991.61 L428.53,992.57 L429.71,993.52 L430.9,994.45 L432.09,995.38 L433.3,996.29 L434.51,997.2 L435.73,998.09 L436.96,998.97 L438.19,999.84 L439.44,1000.7 L440.69,1001.55 L441.95,1002.39 L443.21,1003.21 L444.48,1004.03 L445.76,1004.83 L447.05,1005.62 L448.34,1006.39 L449.64,1007.16 L450.95,1007.91 L452.26,1008.65 L453.58,1009.37 L454.9,1010.08 L456.23,1010.78 L457.57,1011.47 L458.91,1012.14 L460.26,1012.8 L461.62,1013.44 L462.98,1014.07 L464.35,1014.69 L465.72,1015.29 L467.1,1015.88 L468.48,1016.45 L469.87,1017.01 L471.26,1017.55 L472.66,1018.08 L474.06,1018.59 L475.47,1019.09 L476.89,1019.57 L478.3,1020.04 L479.73,1020.49 L481.15,1020.93 L482.58,1021.36 L484.02,1021.77 L485.46,1022.17 L486.9,1022.56 L488.35,1022.94 L489.8,1023.3 L491.26,1023.65 L492.72,1023.99 L494.18,1024.31 L495.64,1024.63 L497.11,1024.93 L498.58,1025.22 L500.06,1025.5 L501.54,1025.77 L503.02,1026.02 L504.5,1026.27 L505.99,1026.51 L507.48,1026.74 L508.97,1026.95 L510.46,1027.16 L511.96,1027.36 L513.46,1027.55 L514.96,1027.73 L516.46,1027.9 L517.96,1028.07 L519.47,1028.22 L520.97,1028.37 L522.48,1028.51 L523.99,1028.64 L525.5,1028.76 L527.01,1028.88 L528.53,1028.98 L530.04,1029.09 L531.55,1029.18 L533.07,1029.27 L534.59,1029.35 L536.1,1029.43 L537.62,1029.5 L539.14,1029.57 L540.65,1029.63 L542.17,1029.68 L543.69,1029.73 L545.21,1029.78 L546.72,1029.82 L548.24,1029.86 L549.76,1029.89 L551.27,1029.92 L552.79,1029.94 L554.3,1029.96 L555.82,1029.98 L557.33,1030 L558.84,1030.01 L560.35,1030.01 L561.87,1030.02 L563.38,1030.02 L564.88,1030.02 L566.39,1030.01 L567.9,1030 L569.41,1029.99 L570.92,1029.98 L572.42,1029.96 L573.93,1029.94 L575.44,1029.91 L576.94,1029.89 L578.44,1029.86 L579.95,1029.82 L581.45,1029.79 L582.95,1029.75 L584.46,1029.71 L585.96,1029.66 L587.46,1029.62 L588.96,1029.57 L590.46,1029.52 L591.96,1029.46 L593.46,1029.4 L594.96,1029.34 L596.46,1029.28 L597.96,1029.21 L599.46,1029.15 L600.96,1029.08 L602.45,1029 L603.95,1028.93 L605.45,1028.85 L606.95,1028.77 L608.44,1028.69 L609.94,1028.6 L611.44,1028.52 L612.93,1028.43 L614.43,1028.34 L615.93,1028.24 L617.42,1028.15 L618.92,1028.05 L620.41,1027.95 L621.91,1027.85 L623.4,1027.74 L624.9,1027.64 L626.39,1027.53 L627.89,1027.42 L629.38,1027.31 L630.88,1027.2 L632.37,1027.08 L633.87,1026.97 L635.36,1026.85 L636.86,1026.73 L638.35,1026.61 L639.85,1026.48 L641.34,1026.36 L642.84,1026.23 L644.33,1026.1 L645.83,1025.97 L647.33,1025.84 L648.82,1025.71 L650.32,1025.58 L651.81,1025.44 L653.31,1025.31 L654.81,1025.17 L656.3,1025.03 L657.8,1024.89 L659.3,1024.75 L660.8,1024.6 L662.29,1024.46 L663.79,1024.32 L665.29,1024.17 L666.79,1024.02 L668.29,1023.87 L669.79,1023.73 L671.29,1023.58 L672.79,1023.42 L674.29,1023.27 L675.79,1023.12 L677.29,1022.97 L678.79,1022.81 L680.29,1022.66 L681.8,1022.5 L683.3,1022.35 L684.8,1022.19 L686.31,1022.03 L687.81,1021.87 L689.32,1021.71 L690.82,1021.55 L692.33,1021.39 L693.84,1021.23 L695.34,1021.07 L696.85,1020.91 L698.36,1020.75 L699.87,1020.59 L701.38,1020.43 L702.89,1020.27" fill="none" stroke="#d40000" stroke-width="3.6" stroke-linecap="round" stroke-linejoin="round"/>
<path d="M275.59,715.91 L276.91,716.65 L278.19,717.43 L279.44,718.24 L280.65,719.1 L281.83,719.98 L282.98,720.91 L284.09,721.86 L285.18,722.85 L286.23,723.87 L287.26,724.91 L288.26,725.98 L289.23,727.09 L290.18,728.21 L291.1,729.36 L292,730.53 L292.88,731.73 L293.74,732.94 L294.57,734.18 L295.39,735.43 L296.18,736.7 L296.96,737.98 L297.72,739.28 L298.47,740.59 L299.2,741.92 L299.91,743.25 L300.62,744.59 L301.31,745.95 L301.99,747.3 L302.66,748.67 L303.33,750.04 L303.98,751.41 L304.63,752.78 L305.27,754.16 L305.9,755.54 L306.52,756.92 L307.14,758.31 L307.75,759.7 L308.36,761.09 L308.96,762.48 L309.56,763.88 L310.15,765.27 L310.73,766.67 L311.31,768.07 L311.89,769.47 L312.47,770.87 L313.04,772.27 L313.6,773.67 L314.17,775.08 L314.73,776.48 L315.29,777.88 L315.85,779.29 L316.4,780.69 L316.96,782.09 L317.51,783.5 L318.06,784.9 L318.61,786.31 L319.16,787.71 L319.7,789.11 L320.25,790.52 L320.79,791.92 L321.33,793.33 L321.87,794.73 L322.41,796.14 L322.95,797.54 L323.48,798.95 L324.02,800.35 L324.55,801.76 L325.09,803.16 L325.62,804.57 L326.15,805.97 L326.68,807.38 L327.21,808.78 L327.74,810.19 L328.27,811.59 L328.8,813 L329.32,814.41 L329.85,815.81 L330.38,817.22 L330.9,818.62 L331.43,820.03 L331.95,821.44 L332.48,822.84 L333.01,824.25 L333.53,825.66 L334.06,827.06 L334.58,828.47 L335.11,829.88 L335.63,831.28 L336.16,832.69 L336.69,834.1 L337.21,835.5 L337.74,836.91 L338.27,838.32 L338.8,839.73 L339.33,841.13 L339.86,842.54 L340.39,843.95 L340.92,845.36 L341.45,846.76 L341.99,848.17 L342.52,849.58 L343.06,850.99 L343.59,852.4 L344.13,853.8 L344.67,855.21 L345.21,856.62 L345.75,858.03 L346.29,859.44 L346.84,860.84 L347.39,862.25 L347.93,863.66 L348.48,865.06 L349.04,866.47 L349.59,867.88 L350.14,869.28 L350.7,870.68 L351.26,872.09 L351.83,873.49 L352.39,874.89 L352.96,876.29 L353.53,877.69 L354.1,879.08 L354.68,880.48 L355.25,881.87 L355.83,883.27 L356.42,884.66 L357,886.05 L357.59,887.44 L358.19,888.82 L358.78,890.21 L359.38,891.59 L359.98,892.97 L360.59,894.35 L361.2,895.73 L361.81,897.1 L362.43,898.47 L363.05,899.84 L363.68,901.21 L364.31,902.57 L364.94,903.93 L365.58,905.29 L366.22,906.65 L366.86,908 L367.51,909.35 L368.17,910.7 L368.82,912.05 L369.49,913.39 L370.16,914.73 L370.83,916.06 L371.51,917.39 L372.19,918.72 L372.87,920.05 L373.57,921.37 L374.26,922.68 L374.97,924 L375.68,925.31 L376.39,926.62 L377.11,927.92 L377.84,929.22 L378.57,930.52 L379.31,931.82 L380.06,933.11 L380.81,934.4 L381.57,935.68 L382.34,936.97 L383.12,938.25 L383.9,939.53 L384.69,940.81 L385.49,942.08 L386.3,943.35 L387.11,944.62 L387.94,945.89 L388.77,947.16 L389.62,948.42 L390.47,949.68 L391.33,950.94 L392.2,952.2 L393.08,953.45 L393.97,954.7 L394.87,955.94 L395.78,957.18 L396.7,958.41 L397.63,959.64 L398.57,960.86 L399.52,962.07 L400.48,963.27 L401.44,964.47 L402.42,965.65 L403.41,966.83 L404.41,967.99 L405.42,969.15 L406.43,970.29 L407.46,971.42 L408.5,972.54 L409.55,973.64 L410.61,974.73 L411.68,975.81 L412.76,976.87 L413.85,977.91 L414.94,978.94 L416.05,979.96 L417.17,980.97 L418.3,981.96 L419.44,982.93 L420.58,983.89 L421.74,984.84 L422.91,985.77 L424.08,986.69 L425.26,987.6 L426.45,988.49 L427.65,989.37 L428.86,990.24 L430.08,991.09 L431.31,991.93 L432.54,992.76 L433.78,993.57 L435.03,994.37 L436.29,995.16 L437.56,995.94 L438.83,996.7 L440.11,997.45 L441.4,998.18 L442.69,998.9 L444,999.62 L445.31,1000.31 L446.62,1001 L447.94,1001.67 L449.27,1002.33 L450.61,1002.98 L451.95,1003.62 L453.3,1004.24 L454.66,1004.86 L456.02,1005.46 L457.39,1006.05 L458.76,1006.62 L460.14,1007.19 L461.53,1007.74 L462.92,1008.29 L464.31,1008.82 L465.71,1009.34 L467.12,1009.84 L468.53,1010.34 L469.95,1010.83 L471.37,1011.3 L472.79,1011.76 L474.22,1012.21 L475.66,1012.66 L477.1,1013.09 L478.54,1013.51 L479.99,1013.91 L481.44,1014.31 L482.9,1014.7 L484.36,1015.08 L485.82,1015.44 L487.29,1015.8 L488.76,1016.15 L490.23,1016.48 L491.71,1016.81 L493.19,1017.12 L494.67,1017.43 L496.16,1017.72 L497.65,1018.01 L499.14,1018.28 L500.63,1018.55 L502.13,1018.81 L503.63,1019.05 L505.13,1019.29 L506.63,1019.52 L508.14,1019.73 L509.64,1019.94 L511.15,1020.14 L512.66,1020.33 L514.18,1020.51 L515.69,1020.69 L517.2,1020.85 L518.72,1021.01 L520.24,1021.15 L521.75,1021.29 L523.27,1021.42 L524.79,1021.54 L526.31,1021.65 L527.83,1021.75 L529.35,1021.84 L530.87,1021.93 L532.39,1022.01 L533.91,1022.08 L535.43,1022.14 L536.95,1022.19 L538.47,1022.24 L539.99,1022.27 L541.51,1022.3 L543.03,1022.32 L544.55,1022.34 L546.07,1022.34 L547.58,1022.34 L549.1,1022.34 L550.61,1022.32 L552.12,1022.3 L553.63,1022.27 L555.14,1022.23 L556.65,1022.18 L558.16,1022.13 L559.66,1022.07 L561.16,1022.01 L562.67,1021.94 L564.17,1021.86 L565.67,1021.78 L567.17,1021.69 L568.66,1021.59 L570.16,1021.49 L571.66,1021.38 L573.15,1021.27 L574.64,1021.15 L576.14,1021.03 L577.63,1020.91 L579.12,1020.77 L580.61,1020.64 L582.1,1020.5 L583.59,1020.35 L585.08,1020.2 L586.56,1020.05 L588.05,1019.89 L589.54,1019.73 L591.02,1019.57 L592.51,1019.4 L594,1019.23 L595.48,1019.06 L596.97,1018.88 L598.45,1018.7 L599.94,1018.52 L601.42,1018.34 L602.91,1018.15 L604.39,1017.96 L605.88,1017.77 L607.36,1017.58 L608.84,1017.39 L610.33,1017.19 L611.82,1016.99 L613.3,1016.79 L614.79,1016.6 L616.27,1016.4 L617.76,1016.19 L619.25,1015.99 L620.73,1015.79 L622.22,1015.59 L623.71,1015.39 L625.2,1015.18 L626.69,1014.98 L628.18,1014.78 L629.67,1014.58 L631.16,1014.37 L632.65,1014.17 L634.15,1013.97 L635.64,1013.78 L637.14,1013.58 L638.63,1013.38 L640.13,1013.19 L641.63,1012.99 L643.13,1012.8 L644.63,1012.61 L646.13,1012.42 L647.63,1012.23 L649.13,1012.04 L650.63,1011.85 L652.14,1011.66 L653.64,1011.47 L655.14,1011.28 L656.64,1011.09 L658.15,1010.89 L659.65,1010.7 L661.15,1010.51 L662.65,1010.31 L664.16,1010.11 L665.66,1009.91 L667.16,1009.71 L668.66,1009.51 L670.16,1009.3 L671.65,1009.09 L673.15,1008.88 L674.65,1008.67 L676.14,1008.45 L677.64,1008.23 L679.13,1008 L680.62,1007.78 L682.11,1007.54 L683.6,1007.31 L685.08,1007.07 L686.57,1006.82 L688.05,1006.57 L689.53,1006.32 L691.01,1006.06 L692.48,1005.79 L693.96,1005.52 L695.43,1005.24 L696.9,1004.96 L698.37,1004.67 L699.83,1004.38 L701.29,1004.08 L702.75,1003.77" fill="none" stroke="#d40000" stroke-width="3.6" stroke-linecap="round" stroke-linejoin="round"/>
<text transform="translate(221.9,873.1) rotate(-90)" x="-40.84" y="0" font-family="Liberation Sans, sans-serif" font-size="24.2" fill="#222">gamma</text>
<text x="408.77" y="1124.5" font-family="Liberation Sans, sans-serif" font-size="24.2" fill="#222">t in calendar weeks</text>
<rect x="1061.6" y="669.5" width="504" height="394.8" fill="none" stroke="#5e5e5e" stroke-width="1.3"/>
<path d="M1061.6,1064.3v-5M1061.6,669.5v5M1187.6,1064.3v-5M1187.6,669.5v5M1313.6,1064.3v-5M1313.6,669.5v5M1439.6,1064.3v-5M1439.6,669.5v5M1565.6,1064.3v-5M1565.6,669.5v5M1061.6,1064.3h5M1565.6,1064.3h-5M1061.6,985.34h5M1565.6,985.34h-5M1061.6,906.38h5M1565.6,906.38h-5M1061.6,827.42h5M1565.6,827.42h-5M1061.6,748.46h5M1565.6,748.46h-5M1061.6,669.5h5M1565.6,669.5h-5" stroke="#5e5e5e" stroke-width="1.3" fill="none"/>
<text x="1047.08" y="1093.3" font-family="Liberation Sans, sans-serif" font-size="22" fill="#222">10</text>
<text x="1173.1" y="1093.3" font-family="Liberation Sans, sans-serif" font-size="22" fill="#222">15</text>
<text x="1299.35" y="1093.3" font-family="Liberation Sans, sans-serif" font-size="22" fill="#222">20</text>
<text x="1425.38" y="1093.3" font-family="Liberation Sans, sans-serif" font-size="22" fill="#222">25</text>
<text x="1551.49" y="1093.3" font-family="Liberation Sans, sans-serif" font-size="22" fill="#222">30</text>
<text x="1039.21" y="1071.86" font-family="Liberation Sans, sans-serif" font-size="22" fill="#222">0</text>
<text x="1019.12" y="992.9" font-family="Liberation Sans, sans-serif" font-size="22" fill="#222">0.2</text>
<text x="1018.62" y="913.94" font-family="Liberation Sans, sans-serif" font-size="22" fill="#222">0.4</text>
<text x="1018.95" y="834.98" font-family="Liberation Sans, sans-serif" font-size="22" fill="#222">0.6</text>
<text x="1018.95" y="756.02" font-family="Liberation Sans, sans-serif" font-size="22" fill="#222">0.8</text>
<text x="1037.34" y="677.06" font-family="Liberation Sans, sans-serif" font-size="22" fill="#222">1</text>
<path d="M1061.74,1026.3 L1063.2,1025.9 L1064.65,1025.48 L1066.1,1025.04 L1067.54,1024.59 L1068.97,1024.12 L1070.39,1023.64 L1071.81,1023.15 L1073.23,1022.64 L1074.63,1022.12 L1076.03,1021.58 L1077.43,1021.03 L1078.82,1020.47 L1080.2,1019.9 L1081.58,1019.31 L1082.95,1018.71 L1084.31,1018.09 L1085.67,1017.47 L1087.02,1016.83 L1088.37,1016.18 L1089.71,1015.52 L1091.05,1014.85 L1092.38,1014.17 L1093.7,1013.48 L1095.02,1012.77 L1096.34,1012.06 L1097.65,1011.33 L1098.95,1010.6 L1100.25,1009.86 L1101.55,1009.1 L1102.84,1008.34 L1104.12,1007.57 L1105.4,1006.78 L1106.68,1005.99 L1107.95,1005.19 L1109.21,1004.39 L1110.47,1003.57 L1111.73,1002.75 L1112.98,1001.92 L1114.23,1001.08 L1115.47,1000.23 L1116.71,999.38 L1117.95,998.52 L1119.18,997.65 L1120.41,996.78 L1121.63,995.9 L1122.85,995.01 L1124.07,994.12 L1125.28,993.22 L1126.49,992.32 L1127.69,991.41 L1128.89,990.49 L1130.09,989.58 L1131.28,988.65 L1132.47,987.72 L1133.66,986.79 L1134.84,985.86 L1136.03,984.92 L1137.2,983.97 L1138.38,983.03 L1139.55,982.07 L1140.72,981.12 L1141.88,980.16 L1143.04,979.2 L1144.2,978.23 L1145.36,977.26 L1146.51,976.29 L1147.66,975.31 L1148.81,974.33 L1149.95,973.35 L1151.09,972.36 L1152.23,971.37 L1153.36,970.37 L1154.49,969.38 L1155.62,968.37 L1156.74,967.37 L1157.87,966.36 L1158.98,965.35 L1160.1,964.34 L1161.21,963.32 L1162.32,962.3 L1163.43,961.28 L1164.53,960.25 L1165.63,959.22 L1166.73,958.19 L1167.82,957.15 L1168.91,956.11 L1170,955.07 L1171.09,954.03 L1172.17,952.98 L1173.25,951.93 L1174.33,950.88 L1175.4,949.82 L1176.47,948.77 L1177.54,947.7 L1178.6,946.64 L1179.67,945.58 L1180.73,944.51 L1181.78,943.44 L1182.84,942.37 L1183.89,941.29 L1184.94,940.21 L1185.99,939.13 L1187.03,938.05 L1188.08,936.97 L1189.12,935.89 L1190.16,934.8 L1191.2,933.71 L1192.23,932.62 L1193.27,931.53 L1194.3,930.44 L1195.33,929.34 L1196.36,928.25 L1197.39,927.15 L1198.42,926.05 L1199.44,924.95 L1200.47,923.85 L1201.49,922.75 L1202.51,921.65 L1203.53,920.54 L1204.55,919.44 L1205.57,918.33 L1206.59,917.23 L1207.61,916.12 L1208.63,915.02 L1209.65,913.91 L1210.66,912.8 L1211.68,911.69 L1212.69,910.58 L1213.71,909.48 L1214.72,908.37 L1215.74,907.26 L1216.76,906.15 L1217.77,905.04 L1218.79,903.93 L1219.8,902.82 L1220.82,901.71 L1221.83,900.61 L1222.85,899.5 L1223.87,898.39 L1224.88,897.29 L1225.9,896.18 L1226.92,895.07 L1227.94,893.97 L1228.96,892.87 L1229.98,891.76 L1231,890.66 L1232.03,889.56 L1233.05,888.46 L1234.08,887.36 L1235.11,886.26 L1236.13,885.17 L1237.16,884.07 L1238.2,882.98 L1239.23,881.89 L1240.26,880.8 L1241.3,879.71 L1242.34,878.62 L1243.38,877.54 L1244.42,876.45 L1245.46,875.37 L1246.51,874.29 L1247.56,873.21 L1248.61,872.14 L1249.66,871.07 L1250.71,870 L1251.77,868.93 L1252.83,867.86 L1253.89,866.8 L1254.96,865.73 L1256.03,864.68 L1257.1,863.62 L1258.17,862.56 L1259.24,861.51 L1260.32,860.46 L1261.4,859.42 L1262.48,858.37 L1263.57,857.33 L1264.66,856.29 L1265.75,855.25 L1266.84,854.22 L1267.93,853.19 L1269.03,852.16 L1270.13,851.13 L1271.23,850.11 L1272.34,849.08 L1273.45,848.06 L1274.56,847.05 L1275.67,846.03 L1276.78,845.02 L1277.9,844.01 L1279.02,843.01 L1280.14,842 L1281.26,841 L1282.39,840 L1283.52,839.01 L1284.65,838.01 L1285.79,837.02 L1286.92,836.03 L1288.06,835.05 L1289.2,834.07 L1290.34,833.09 L1291.49,832.11 L1292.64,831.14 L1293.79,830.16 L1294.94,829.19 L1296.1,828.23 L1297.25,827.26 L1298.41,826.3 L1299.57,825.35 L1300.74,824.39 L1301.91,823.44 L1303.07,822.49 L1304.25,821.54 L1305.42,820.6 L1306.59,819.65 L1307.77,818.72 L1308.95,817.78 L1310.14,816.85 L1311.32,815.92 L1312.51,814.99 L1313.7,814.07 L1314.89,813.14 L1316.08,812.23 L1317.28,811.31 L1318.48,810.4 L1319.68,809.49 L1320.88,808.58 L1322.09,807.68 L1323.29,806.78 L1324.5,805.88 L1325.71,804.98 L1326.93,804.09 L1328.14,803.2 L1329.36,802.31 L1330.58,801.43 L1331.81,800.55 L1333.03,799.67 L1334.26,798.8 L1335.49,797.93 L1336.72,797.06 L1337.95,796.19 L1339.19,795.33 L1340.43,794.47 L1341.67,793.62 L1342.91,792.76 L1344.15,791.91 L1345.4,791.07 L1346.65,790.22 L1347.9,789.38 L1349.15,788.55 L1350.4,787.71 L1351.66,786.88 L1352.92,786.05 L1354.18,785.23 L1355.44,784.41 L1356.71,783.59 L1357.98,782.78 L1359.25,781.97 L1360.52,781.16 L1361.8,780.36 L1363.07,779.56 L1364.35,778.77 L1365.63,777.98 L1366.92,777.19 L1368.21,776.41 L1369.49,775.63 L1370.79,774.86 L1372.08,774.1 L1373.38,773.33 L1374.68,772.58 L1375.98,771.82 L1377.28,771.08 L1378.59,770.34 L1379.9,769.6 L1381.21,768.87 L1382.53,768.14 L1383.85,767.42 L1385.17,766.71 L1386.49,766 L1387.82,765.3 L1389.15,764.6 L1390.48,763.91 L1391.82,763.23 L1393.16,762.55 L1394.5,761.88 L1395.85,761.21 L1397.19,760.56 L1398.54,759.9 L1399.9,759.26 L1401.26,758.62 L1402.62,757.99 L1403.98,757.37 L1405.35,756.75 L1406.72,756.14 L1408.09,755.54 L1409.47,754.94 L1410.85,754.36 L1412.23,753.78 L1413.62,753.21 L1415.01,752.64 L1416.4,752.09 L1417.8,751.54 L1419.2,751 L1420.6,750.47 L1422.01,749.94 L1423.42,749.43 L1424.83,748.92 L1426.25,748.42 L1427.67,747.93 L1429.09,747.45 L1430.52,746.97 L1431.95,746.51 L1433.38,746.05 L1434.81,745.6 L1436.25,745.16 L1437.69,744.72 L1439.13,744.3 L1440.58,743.88 L1442.03,743.47 L1443.48,743.07 L1444.93,742.68 L1446.39,742.3 L1447.85,741.92 L1449.31,741.56 L1450.77,741.2 L1452.24,740.85 L1453.7,740.51 L1455.17,740.17 L1456.65,739.85 L1458.12,739.54 L1459.6,739.23 L1461.07,738.93 L1462.55,738.64 L1464.04,738.36 L1465.52,738.09 L1467.01,737.82 L1468.5,737.57 L1469.98,737.32 L1471.48,737.08 L1472.97,736.85 L1474.46,736.63 L1475.96,736.42 L1477.46,736.22 L1478.96,736.03 L1480.46,735.84 L1481.96,735.67 L1483.46,735.5 L1484.97,735.34 L1486.47,735.19 L1487.98,735.05 L1489.49,734.92" fill="none" stroke="#0000e6" stroke-width="3.0" stroke-linecap="round" stroke-linejoin="round"/>
<path d="M1061.71,1022.21 L1063.15,1021.73 L1064.59,1021.23 L1066.02,1020.72 L1067.43,1020.19 L1068.85,1019.66 L1070.25,1019.1 L1071.65,1018.54 L1073.04,1017.96 L1074.43,1017.38 L1075.81,1016.77 L1077.18,1016.16 L1078.54,1015.53 L1079.9,1014.9 L1081.25,1014.25 L1082.6,1013.58 L1083.94,1012.91 L1085.27,1012.23 L1086.6,1011.53 L1087.92,1010.83 L1089.23,1010.11 L1090.54,1009.38 L1091.84,1008.64 L1093.14,1007.9 L1094.43,1007.14 L1095.72,1006.37 L1097,1005.59 L1098.27,1004.81 L1099.54,1004.01 L1100.8,1003.21 L1102.06,1002.39 L1103.31,1001.57 L1104.56,1000.74 L1105.8,999.9 L1107.04,999.05 L1108.27,998.2 L1109.5,997.33 L1110.72,996.46 L1111.94,995.58 L1113.15,994.7 L1114.36,993.8 L1115.56,992.9 L1116.76,992 L1117.96,991.08 L1119.15,990.16 L1120.33,989.24 L1121.52,988.3 L1122.69,987.37 L1123.87,986.42 L1125.04,985.47 L1126.2,984.52 L1127.36,983.56 L1128.52,982.59 L1129.67,981.62 L1130.82,980.65 L1131.97,979.67 L1133.11,978.69 L1134.25,977.7 L1135.39,976.71 L1136.52,975.71 L1137.65,974.71 L1138.77,973.71 L1139.89,972.71 L1141.01,971.7 L1142.13,970.68 L1143.24,969.67 L1144.35,968.65 L1145.46,967.62 L1146.56,966.59 L1147.66,965.56 L1148.76,964.53 L1149.85,963.49 L1150.94,962.45 L1152.03,961.41 L1153.11,960.37 L1154.2,959.32 L1155.28,958.26 L1156.35,957.21 L1157.43,956.15 L1158.5,955.09 L1159.56,954.03 L1160.63,952.96 L1161.69,951.9 L1162.75,950.83 L1163.81,949.75 L1164.86,948.68 L1165.91,947.6 L1166.96,946.52 L1168.01,945.44 L1169.05,944.35 L1170.1,943.26 L1171.14,942.18 L1172.17,941.08 L1173.21,939.99 L1174.24,938.9 L1175.27,937.8 L1176.3,936.7 L1177.32,935.6 L1178.35,934.5 L1179.37,933.4 L1180.39,932.29 L1181.4,931.18 L1182.42,930.07 L1183.43,928.96 L1184.45,927.85 L1185.46,926.74 L1186.46,925.62 L1187.47,924.51 L1188.47,923.39 L1189.48,922.27 L1190.48,921.15 L1191.48,920.03 L1192.48,918.91 L1193.48,917.78 L1194.47,916.66 L1195.47,915.53 L1196.46,914.4 L1197.45,913.28 L1198.44,912.15 L1199.44,911.02 L1200.42,909.88 L1201.41,908.75 L1202.4,907.62 L1203.39,906.49 L1204.37,905.35 L1205.36,904.22 L1206.34,903.08 L1207.33,901.95 L1208.31,900.81 L1209.29,899.67 L1210.27,898.53 L1211.26,897.39 L1212.24,896.26 L1213.22,895.12 L1214.2,893.98 L1215.18,892.84 L1216.16,891.7 L1217.14,890.56 L1218.12,889.41 L1219.1,888.27 L1220.08,887.13 L1221.06,885.99 L1222.04,884.85 L1223.02,883.71 L1224,882.57 L1224.98,881.42 L1225.96,880.28 L1226.94,879.14 L1227.92,878 L1228.9,876.85 L1229.88,875.71 L1230.86,874.57 L1231.83,873.43 L1232.81,872.28 L1233.79,871.14 L1234.77,870 L1235.75,868.85 L1236.73,867.71 L1237.72,866.57 L1238.7,865.43 L1239.68,864.29 L1240.66,863.14 L1241.64,862 L1242.62,860.86 L1243.6,859.72 L1244.59,858.58 L1245.57,857.44 L1246.55,856.29 L1247.54,855.15 L1248.52,854.01 L1249.5,852.87 L1250.49,851.73 L1251.47,850.59 L1252.46,849.46 L1253.44,848.32 L1254.43,847.18 L1255.42,846.04 L1256.41,844.9 L1257.4,843.77 L1258.39,842.63 L1259.38,841.5 L1260.37,840.37 L1261.36,839.23 L1262.36,838.1 L1263.35,836.97 L1264.35,835.85 L1265.35,834.72 L1266.35,833.59 L1267.35,832.47 L1268.36,831.35 L1269.36,830.23 L1270.37,829.11 L1271.38,828 L1272.39,826.88 L1273.4,825.77 L1274.42,824.66 L1275.44,823.56 L1276.46,822.45 L1277.48,821.35 L1278.51,820.25 L1279.54,819.15 L1280.57,818.06 L1281.6,816.97 L1282.64,815.88 L1283.68,814.8 L1284.72,813.72 L1285.77,812.64 L1286.81,811.57 L1287.87,810.49 L1288.92,809.43 L1289.98,808.36 L1291.04,807.3 L1292.11,806.25 L1293.18,805.19 L1294.25,804.15 L1295.33,803.1 L1296.41,802.06 L1297.5,801.03 L1298.59,799.99 L1299.68,798.97 L1300.78,797.94 L1301.88,796.93 L1302.99,795.91 L1304.1,794.9 L1305.21,793.9 L1306.33,792.9 L1307.45,791.9 L1308.58,790.91 L1309.71,789.93 L1310.85,788.94 L1311.98,787.97 L1313.13,786.99 L1314.27,786.02 L1315.42,785.06 L1316.58,784.1 L1317.74,783.14 L1318.9,782.19 L1320.06,781.24 L1321.23,780.3 L1322.41,779.36 L1323.58,778.43 L1324.76,777.5 L1325.95,776.57 L1327.13,775.65 L1328.32,774.73 L1329.52,773.82 L1330.71,772.91 L1331.91,772 L1333.12,771.1 L1334.33,770.2 L1335.54,769.31 L1336.75,768.42 L1337.97,767.54 L1339.19,766.66 L1340.41,765.78 L1341.64,764.91 L1342.87,764.04 L1344.1,763.17 L1345.33,762.31 L1346.57,761.45 L1347.81,760.6 L1349.06,759.75 L1350.3,758.9 L1351.55,758.06 L1352.8,757.22 L1354.06,756.39 L1355.32,755.56 L1356.58,754.73 L1357.84,753.91 L1359.11,753.09 L1360.38,752.28 L1361.65,751.47 L1362.92,750.67 L1364.2,749.87 L1365.48,749.07 L1366.76,748.28 L1368.05,747.49 L1369.34,746.71 L1370.63,745.93 L1371.92,745.15 L1373.22,744.38 L1374.52,743.62 L1375.82,742.86 L1377.12,742.1 L1378.43,741.35 L1379.74,740.61 L1381.05,739.87 L1382.36,739.13 L1383.68,738.4 L1385,737.67 L1386.32,736.95 L1387.65,736.23 L1388.98,735.52 L1390.31,734.82 L1391.64,734.12 L1392.98,733.42 L1394.31,732.73 L1395.65,732.05 L1397,731.37 L1398.34,730.69 L1399.69,730.03 L1401.04,729.36 L1402.4,728.71 L1403.75,728.05 L1405.11,727.41 L1406.47,726.77 L1407.83,726.13 L1409.2,725.5 L1410.57,724.88 L1411.94,724.26 L1413.31,723.65 L1414.69,723.05 L1416.07,722.45 L1417.45,721.85 L1418.83,721.27 L1420.21,720.68 L1421.6,720.11 L1422.99,719.54 L1424.39,718.98 L1425.78,718.42 L1427.18,717.87 L1428.58,717.33 L1429.98,716.79 L1431.38,716.26 L1432.79,715.74 L1434.2,715.22 L1435.61,714.71 L1437.03,714.2 L1438.44,713.7 L1439.86,713.21 L1441.28,712.73 L1442.71,712.25 L1444.13,711.78 L1445.56,711.32 L1446.99,710.86 L1448.42,710.41 L1449.86,709.97 L1451.29,709.53 L1452.73,709.1 L1454.17,708.68 L1455.62,708.26 L1457.06,707.86 L1458.51,707.46 L1459.96,707.06 L1461.42,706.68 L1462.87,706.3 L1464.33,705.93 L1465.79,705.57 L1467.25,705.21 L1468.71,704.86 L1470.18,704.52 L1471.65,704.19 L1473.12,703.87 L1474.59,703.55 L1476.06,703.24 L1477.54,702.94 L1479.02,702.64 L1480.5,702.36 L1481.98,702.08 L1483.47,701.81 L1484.95,701.55 L1486.44,701.29 L1487.93,701.05 L1489.43,700.81" fill="none" stroke="#0000e6" stroke-width="3.0" stroke-linecap="round" stroke-linejoin="round"/>
<text transform="translate(1008.5,869.6) rotate(-90)" x="-19.6" y="0" font-family="Liberation Sans, sans-serif" font-size="24.2" fill="#222">eps</text>
<text x="1194.97" y="1124.5" font-family="Liberation Sans, sans-serif" font-size="24.2" fill="#222">t in calendar weeks</text>
<text x="2.26" y="29" font-family="Liberation Sans, sans-serif" font-size="37.5" font-weight="bold" fill="#000">A</text>
<text x="619.27" y="29" font-family="Liberation Sans, sans-serif" font-size="37.5" font-weight="bold" fill="#000">B</text>
<text x="1224.5" y="29.2" font-family="Liberation Sans, sans-serif" font-size="37.5" font-weight="bold" fill="#000">C</text>
<text x="2.97" y="668.3" font-family="Liberation Sans, sans-serif" font-size="37.5" font-weight="bold" fill="#000">D</text>
<text x="988.47" y="668.3" font-family="Liberation Sans, sans-serif" font-size="37.5" font-weight="bold" fill="#000">E</text>
<text x="79.26" y="25.6" font-family="Liberation Sans, sans-serif" font-size="22" fill="#222">×</text>
<text x="94.6" y="24.3" font-family="Liberation Sans, sans-serif" font-size="20" fill="#222">10</text>
<text x="119.56" y="15" font-family="Liberation Sans, sans-serif" font-size="16" fill="#222">5</text>
<text x="690.06" y="25.6" font-family="Liberation Sans, sans-serif" font-size="22" fill="#222">×</text>
<text x="705.4" y="24.3" font-family="Liberation Sans, sans-serif" font-size="20" fill="#222">10</text>
<text x="730.36" y="15" font-family="Liberation Sans, sans-serif" font-size="16" fill="#222">5</text>
<text transform="translate(82.09,507) scale(1.0533,1)" font-family="Liberation Serif, sans-serif" font-size="43" fill="#000">Cumulative</text>
<text transform="translate(320.19,507) scale(1.0409,1)" font-family="Liberation Serif, sans-serif" font-size="43" fill="#000">number</text>
<text transform="translate(484.83,507) scale(0.9712,1)" font-family="Liberation Serif, sans-serif" font-size="43" fill="#000">of</text>
<text transform="translate(546.74,507) scale(1.0030,1)" font-family="Liberation Serif, sans-serif" font-size="43" fill="#000">in-</text>
<text transform="translate(0.97,562.5) scale(1.0291,1)" font-family="Liberation Serif, sans-serif" font-size="43" fill="#000">fected</text>
<text transform="translate(123.27,562.5) scale(1.0102,1)" font-family="Liberation Serif, sans-serif" font-size="43" fill="#000">cases</text>
<text transform="translate(230.33,562.5) scale(1.1759,1)" font-family="Liberation Serif, sans-serif" font-size="44.9" font-style="italic" fill="#000">I</text>
<text transform="translate(237.06,544.2) scale(1.4709,1)" font-family="Liberation Serif, sans-serif" font-size="30" fill="#000">˜</text>
<text transform="translate(250.83,562.5) scale(1.0271,1)" font-family="Liberation Serif, sans-serif" font-size="43" fill="#000">.</text>
<text transform="translate(695.16,507) scale(1.0408,1)" font-family="Liberation Serif, sans-serif" font-size="43" fill="#000">Number</text>
<text transform="translate(856.35,507) scale(1.0238,1)" font-family="Liberation Serif, sans-serif" font-size="43" fill="#000">of</text>
<text transform="translate(904.93,507) scale(1.0141,1)" font-family="Liberation Serif, sans-serif" font-size="43" fill="#000">recovered</text>
<text transform="translate(1091.19,507) scale(1.0013,1)" font-family="Liberation Serif, sans-serif" font-size="43" fill="#000">cases.</text>
<text transform="translate(1345.63,507) scale(1.0608,1)" font-family="Liberation Serif, sans-serif" font-size="43" fill="#000">Reproduction</text>
<text transform="translate(1608.35,507) scale(1.0854,1)" font-family="Liberation Serif, sans-serif" font-size="43" fill="#000">number.</text>
<text transform="translate(517.47,1194.5) scale(1.1200,1)" font-family="Liberation Serif, sans-serif" font-size="41" font-style="italic" fill="#000">γ</text>
<text transform="translate(541.52,1194.5) scale(0.8664,1)" font-family="Liberation Serif, sans-serif" font-size="43" fill="#000">(</text>
<text transform="translate(554.74,1194.5) scale(1.1697,1)" font-family="Liberation Serif, sans-serif" font-size="43" font-style="italic" fill="#000">t</text>
<text transform="translate(572.8,1194.5) scale(0.8580,1)" font-family="Liberation Serif, sans-serif" font-size="43" fill="#000">)</text>
<text transform="translate(1168.51,1194.7) scale(1.0013,1)" font-family="Liberation Serif, sans-serif" font-size="43" fill="#000">Recovery</text>
<text transform="translate(1348.43,1194.7) scale(1.1266,1)" font-family="Liberation Serif, sans-serif" font-size="43" fill="#000">rate</text>
<text transform="translate(1433.98,1194.7) scale(1.0497,1)" font-family="Liberation Serif, sans-serif" font-size="43" font-style="italic" fill="#000">ε</text>
<text transform="translate(1455.16,1194.7) scale(0.9485,1)" font-family="Liberation Serif, sans-serif" font-size="43" fill="#000">(</text>
<text transform="translate(1469.39,1194.7) scale(1.1421,1)" font-family="Liberation Serif, sans-serif" font-size="43" font-style="italic" fill="#000">t</text>
<text transform="translate(1486.94,1194.7) scale(0.9754,1)" font-family="Liberation Serif, sans-serif" font-size="43" fill="#000">)</text>
</svg>
</body></html>
